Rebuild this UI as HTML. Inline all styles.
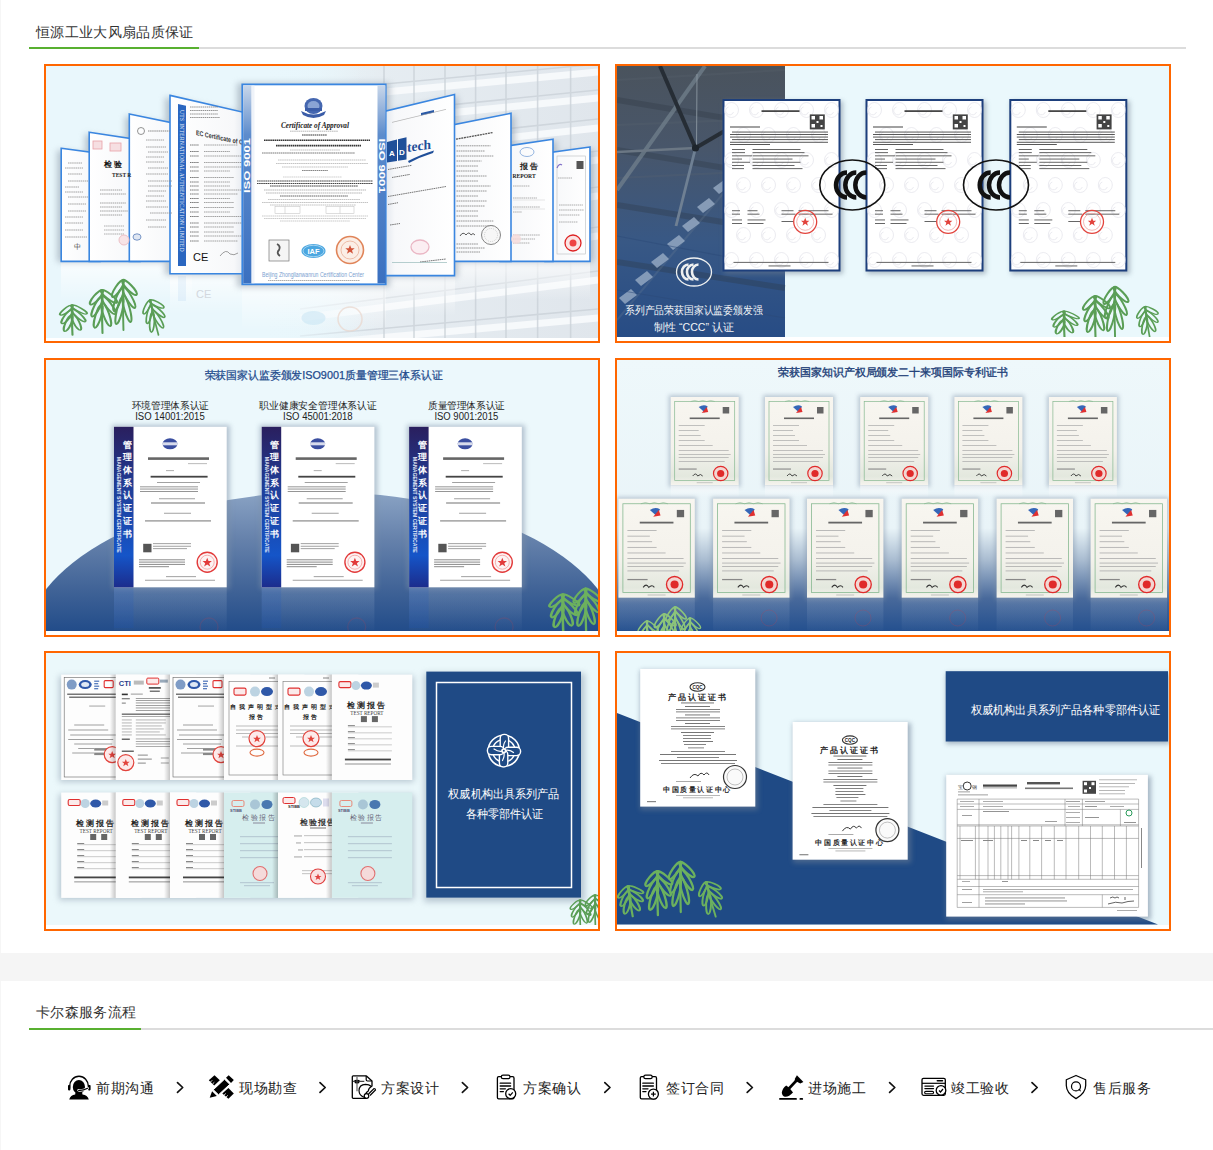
<!DOCTYPE html>
<html><head><meta charset="utf-8">
<style>
html,body{margin:0;padding:0;background:#fff;}
body{width:1213px;height:1150px;position:relative;overflow:hidden;font-family:"Liberation Sans",sans-serif;color:#333;}
.abs{position:absolute;}
.ttl{position:absolute;font-size:14px;letter-spacing:0.35px;line-height:16px;color:#333;white-space:nowrap;}
.gline{position:absolute;height:2px;background:#dcdcdc;}
.grn{position:absolute;height:2px;background:#58b030;}
.pan{position:absolute;width:556px;height:279px;box-sizing:border-box;border:2px solid #ff6600;background:#fff;}
.pan svg{position:absolute;left:0;top:0;display:block;}
.step{position:absolute;top:1075px;height:26px;}
.stxt{position:absolute;font-size:14px;letter-spacing:0.6px;line-height:16px;color:#222;white-space:nowrap;top:1080px;}
.chev{position:absolute;top:1081px;}
</style></head>
<body>
<svg width="0" height="0" style="position:absolute">
<defs>
<g id="fern" fill="none" stroke="#5a9e56" stroke-width="2.1" stroke-linecap="round">
<ellipse cx="7.00" cy="7.50" rx="2.9" ry="10.55" transform="rotate(-47.1 7.00 7.50)"/>
<ellipse cx="6.50" cy="17.50" rx="2.9" ry="12.24" transform="rotate(-32.3 6.50 17.50)"/>
<ellipse cx="4.25" cy="28.50" rx="2.9" ry="14.05" transform="rotate(-16.7 4.25 28.50)"/>
<ellipse cx="-5.50" cy="8.50" rx="2.9" ry="10.30" transform="rotate(36.3 -5.50 8.50)"/>
<ellipse cx="-5.00" cy="19.50" rx="2.9" ry="12.42" transform="rotate(23.2 -5.00 19.50)"/>
<ellipse cx="-3.75" cy="30.50" rx="2.9" ry="13.92" transform="rotate(14.6 -3.75 30.50)"/>
<path d="M0 0 Q-0.5 25 0.5 50"/>
</g>
<g id="fern2" fill="none" stroke="#6cb15e" stroke-width="2.3" stroke-linecap="round">
<ellipse cx="7.00" cy="7.50" rx="2.9" ry="10.55" transform="rotate(-47.1 7.00 7.50)"/>
<ellipse cx="6.50" cy="17.50" rx="2.9" ry="12.24" transform="rotate(-32.3 6.50 17.50)"/>
<ellipse cx="4.25" cy="28.50" rx="2.9" ry="14.05" transform="rotate(-16.7 4.25 28.50)"/>
<ellipse cx="-5.50" cy="8.50" rx="2.9" ry="10.30" transform="rotate(36.3 -5.50 8.50)"/>
<ellipse cx="-5.00" cy="19.50" rx="2.9" ry="12.42" transform="rotate(23.2 -5.00 19.50)"/>
<ellipse cx="-3.75" cy="30.50" rx="2.9" ry="13.92" transform="rotate(14.6 -3.75 30.50)"/>
<path d="M0 0 Q-0.5 25 0.5 50"/>
</g>
<g id="fern3" fill="none" stroke="#8cc47a" stroke-width="2.1" stroke-linecap="round">
<ellipse cx="7.00" cy="7.50" rx="2.9" ry="10.55" transform="rotate(-47.1 7.00 7.50)"/>
<ellipse cx="6.50" cy="17.50" rx="2.9" ry="12.24" transform="rotate(-32.3 6.50 17.50)"/>
<ellipse cx="4.25" cy="28.50" rx="2.9" ry="14.05" transform="rotate(-16.7 4.25 28.50)"/>
<ellipse cx="-5.50" cy="8.50" rx="2.9" ry="10.30" transform="rotate(36.3 -5.50 8.50)"/>
<ellipse cx="-5.00" cy="19.50" rx="2.9" ry="12.42" transform="rotate(23.2 -5.00 19.50)"/>
<ellipse cx="-3.75" cy="30.50" rx="2.9" ry="13.92" transform="rotate(14.6 -3.75 30.50)"/>
<path d="M0 0 Q-0.5 25 0.5 50"/>
</g>
<linearGradient id="bld" x1="0" y1="0" x2="1" y2="0">
<stop offset="0" stop-color="#e8f6fb" stop-opacity="0"/>
<stop offset="0.35" stop-color="#dfe7ee" stop-opacity="1"/>
<stop offset="1" stop-color="#d3dce6"/>
</linearGradient>
<linearGradient id="shR" x1="0" y1="0" x2="1" y2="0">
<stop offset="0" stop-color="#fff"/><stop offset="0.8" stop-color="#f7f8fa"/><stop offset="1" stop-color="#d9dfe8"/>
</linearGradient>
<linearGradient id="shL" x1="0" y1="0" x2="1" y2="0">
<stop offset="0" stop-color="#d9dfe8"/><stop offset="0.2" stop-color="#f7f8fa"/><stop offset="1" stop-color="#fff"/>
</linearGradient>
<linearGradient id="isoStrip" x1="0" y1="0" x2="1" y2="0">
<stop offset="0" stop-color="#a9c4e6"/><stop offset="1" stop-color="#4f86cc"/>
</linearGradient>
<linearGradient id="photo" x1="0" y1="0" x2="0" y2="1">
<stop offset="0" stop-color="#4a535d"/><stop offset="0.3" stop-color="#48566a"/><stop offset="0.65" stop-color="#385885"/><stop offset="1" stop-color="#274c85"/>
</linearGradient>
<g id="cccmark" fill="none" stroke="#111">
<ellipse cx="0" cy="0" rx="32.5" ry="25" stroke-width="1.6"/>
<path d="M-5.3 -12.5 A11 12.5 0 0 0 -5.3 12.5" stroke-width="4.5"/>
<path d="M4 -12.5 A11 12.5 0 0 0 4 12.5" stroke-width="4.5"/>
<path d="M14 -12.5 A11 12.5 0 0 0 14 12.5" stroke-width="4.5"/>
</g>
<g id="ccccert">
<rect x="0" y="0" width="116" height="170.5" fill="#fff" stroke="#1d3f7c" stroke-width="2"/>
<g fill="none" stroke="#e2e2ea" stroke-width="0.7"><ellipse cx="8" cy="10" rx="7" ry="7.5"/><path d="M5 7 a4 4 0 1 0 5 5"/><ellipse cx="33" cy="10" rx="7" ry="7.5"/><path d="M30 7 a4 4 0 1 0 5 5"/><ellipse cx="58" cy="10" rx="7" ry="7.5"/><path d="M55 7 a4 4 0 1 0 5 5"/><ellipse cx="83" cy="10" rx="7" ry="7.5"/><path d="M80 7 a4 4 0 1 0 5 5"/><ellipse cx="108" cy="10" rx="7" ry="7.5"/><path d="M105 7 a4 4 0 1 0 5 5"/><ellipse cx="20" cy="35" rx="7" ry="7.5"/><path d="M17 32 a4 4 0 1 0 5 5"/><ellipse cx="45" cy="35" rx="7" ry="7.5"/><path d="M42 32 a4 4 0 1 0 5 5"/><ellipse cx="70" cy="35" rx="7" ry="7.5"/><path d="M67 32 a4 4 0 1 0 5 5"/><ellipse cx="95" cy="35" rx="7" ry="7.5"/><path d="M92 32 a4 4 0 1 0 5 5"/><ellipse cx="8" cy="60" rx="7" ry="7.5"/><path d="M5 57 a4 4 0 1 0 5 5"/><ellipse cx="33" cy="60" rx="7" ry="7.5"/><path d="M30 57 a4 4 0 1 0 5 5"/><ellipse cx="58" cy="60" rx="7" ry="7.5"/><path d="M55 57 a4 4 0 1 0 5 5"/><ellipse cx="83" cy="60" rx="7" ry="7.5"/><path d="M80 57 a4 4 0 1 0 5 5"/><ellipse cx="108" cy="60" rx="7" ry="7.5"/><path d="M105 57 a4 4 0 1 0 5 5"/><ellipse cx="20" cy="85" rx="7" ry="7.5"/><path d="M17 82 a4 4 0 1 0 5 5"/><ellipse cx="45" cy="85" rx="7" ry="7.5"/><path d="M42 82 a4 4 0 1 0 5 5"/><ellipse cx="70" cy="85" rx="7" ry="7.5"/><path d="M67 82 a4 4 0 1 0 5 5"/><ellipse cx="95" cy="85" rx="7" ry="7.5"/><path d="M92 82 a4 4 0 1 0 5 5"/><ellipse cx="8" cy="110" rx="7" ry="7.5"/><path d="M5 107 a4 4 0 1 0 5 5"/><ellipse cx="33" cy="110" rx="7" ry="7.5"/><path d="M30 107 a4 4 0 1 0 5 5"/><ellipse cx="58" cy="110" rx="7" ry="7.5"/><path d="M55 107 a4 4 0 1 0 5 5"/><ellipse cx="83" cy="110" rx="7" ry="7.5"/><path d="M80 107 a4 4 0 1 0 5 5"/><ellipse cx="108" cy="110" rx="7" ry="7.5"/><path d="M105 107 a4 4 0 1 0 5 5"/><ellipse cx="20" cy="135" rx="7" ry="7.5"/><path d="M17 132 a4 4 0 1 0 5 5"/><ellipse cx="45" cy="135" rx="7" ry="7.5"/><path d="M42 132 a4 4 0 1 0 5 5"/><ellipse cx="70" cy="135" rx="7" ry="7.5"/><path d="M67 132 a4 4 0 1 0 5 5"/><ellipse cx="95" cy="135" rx="7" ry="7.5"/><path d="M92 132 a4 4 0 1 0 5 5"/><ellipse cx="8" cy="160" rx="7" ry="7.5"/><path d="M5 157 a4 4 0 1 0 5 5"/><ellipse cx="33" cy="160" rx="7" ry="7.5"/><path d="M30 157 a4 4 0 1 0 5 5"/><ellipse cx="58" cy="160" rx="7" ry="7.5"/><path d="M55 157 a4 4 0 1 0 5 5"/><ellipse cx="83" cy="160" rx="7" ry="7.5"/><path d="M80 157 a4 4 0 1 0 5 5"/><ellipse cx="108" cy="160" rx="7" ry="7.5"/><path d="M105 157 a4 4 0 1 0 5 5"/></g>
<rect x="38" y="10.3" width="38" height="1.6" fill="#333"/>
<rect x="86.3" y="14.4" width="15" height="15" fill="#444"/>
<g fill="#fff"><rect x="88" y="16" width="3.5" height="3.5"/><rect x="96" y="16" width="3.5" height="3.5"/><rect x="88" y="24" width="3.5" height="3.5"/><rect x="93" y="21" width="2" height="2"/><rect x="97" y="25" width="2" height="2"/></g>
<rect x="6.5" y="26.5" width="30" height="1" fill="#444"/>
<g fill="#444">
<rect x="8.5" y="31.6" width="96" height="0.9"/><rect x="6.5" y="34" width="98" height="0.9"/><rect x="6.5" y="36.6" width="98" height="0.9"/><rect x="8.5" y="39.2" width="96" height="0.9"/><rect x="6.5" y="41.8" width="98" height="0.9"/><rect x="6.5" y="44" width="40" height="0.9"/>
</g>
<g fill="#555">
<rect x="8.5" y="49" width="13" height="0.9"/><rect x="29" y="49" width="48" height="0.9"/>
<rect x="8.5" y="52.2" width="13" height="0.9"/><rect x="29" y="52.2" width="52" height="0.9"/>
<rect x="8.5" y="55.4" width="20" height="0.9"/><rect x="29" y="55.4" width="56" height="0.9"/>
<rect x="8.5" y="58.6" width="10" height="0.9"/><rect x="29" y="58.6" width="40" height="0.9"/>
<rect x="8.5" y="61.8" width="18" height="0.9"/><rect x="29" y="61.8" width="48" height="0.9"/>
<rect x="8.5" y="65" width="12" height="0.9"/><rect x="29" y="65" width="42" height="0.9"/>
<rect x="8.5" y="68.2" width="12" height="0.9"/><rect x="29" y="68.2" width="50" height="0.9"/>
<rect x="8.5" y="110.3" width="8" height="0.9"/><rect x="24" y="110.3" width="10" height="0.9"/><rect x="58" y="110.3" width="12" height="0.9"/><rect x="75" y="110.3" width="30" height="0.9"/>
<rect x="8.5" y="113.7" width="8" height="0.9"/><rect x="24" y="113.7" width="12" height="0.9"/><rect x="58" y="113.7" width="14" height="0.9"/><rect x="75" y="113.7" width="34" height="0.9"/>
<rect x="8.5" y="119.5" width="10" height="0.9"/><rect x="24" y="119.5" width="18" height="0.9"/><rect x="58" y="121" width="12" height="0.9"/>
<rect x="8.5" y="123" width="10" height="0.9"/><rect x="24" y="123" width="16" height="0.9"/>
<rect x="10" y="161.9" width="95" height="0.9"/><rect x="45" y="165.5" width="22" height="0.9"/>
</g>
<circle cx="81.7" cy="121.8" r="11.5" fill="none" stroke="#e2433c" stroke-width="1.3"/>
<circle cx="81.7" cy="121.8" r="8.5" fill="none" stroke="#ee9a96" stroke-width="0.7"/>
<path d="M81.7 117.8 l1.2 3 3 0 -2.4 2 1 3 -2.8 -2 -2.8 2 1 -3 -2.4 -2 3 0z" fill="#e2433c"/>
</g>
<linearGradient id="navyStrip" x1="0" y1="0" x2="0" y2="1">
<stop offset="0" stop-color="#2a1f5e"/><stop offset="0.4" stop-color="#1f3f9a"/><stop offset="0.8" stop-color="#1555c8"/><stop offset="1" stop-color="#1c2c8c"/>
</linearGradient>
<linearGradient id="blueArc" x1="0" y1="0" x2="0" y2="1">
<stop offset="0" stop-color="#5c7fae"/><stop offset="0.5" stop-color="#3a619a"/><stop offset="1" stop-color="#1f4b8c"/>
</linearGradient>
<g id="isocert">
<rect x="0" y="0" width="112.7" height="160.6" fill="#fff"/>
<rect x="0" y="0" width="19.5" height="160.6" fill="url(#navyStrip)"/>
<g font-family="Liberation Serif" font-weight="bold" font-size="9" fill="#fff" text-anchor="middle"><text x="13" y="20.9">管</text><text x="13" y="33.6">理</text><text x="13" y="46.3">体</text><text x="13" y="59.0">系</text><text x="13" y="71.7">认</text><text x="13" y="84.4">证</text><text x="13" y="97.1">证</text><text x="13" y="109.8">书</text></g>
<text transform="translate(3.4,30) rotate(90)" font-family="Liberation Sans" font-weight="bold" font-size="4.8" fill="#e6ecf8" textLength="96" lengthAdjust="spacingAndGlyphs">MANAGEMENT SYSTEM CERTIFICATE</text>
<ellipse cx="56" cy="17" rx="7.5" ry="5.5" fill="#3a4ea0"/><rect x="48.5" y="15.5" width="15" height="3" fill="#fff" opacity="0.8"/>
<rect x="34" y="30.5" width="61" height="2.6" fill="#666"/>
<rect x="74" y="36.5" width="19" height="0.8" fill="#aaa"/>
<rect x="52" y="43.5" width="8" height="0.8" fill="#999"/>
<rect x="36.6" y="49" width="57" height="1.8" fill="#444"/>
<g fill="#8a8a8a">
<rect x="43" y="55.2" width="43" height="0.8"/>
<rect x="26" y="59.6" width="58" height="0.9"/><rect x="26" y="61.8" width="58" height="0.9"/><rect x="26" y="64.2" width="58" height="0.9"/>
<rect x="45" y="71.6" width="36" height="0.8"/><rect x="37" y="75.6" width="54" height="1.2"/>
<rect x="50" y="86" width="27" height="0.8"/><rect x="31" y="93.5" width="66" height="1.2"/>
<rect x="39" y="116.5" width="38" height="0.8"/><rect x="39" y="119" width="38" height="0.8"/><rect x="39" y="121.5" width="34" height="0.8"/>
<rect x="25" y="132.5" width="46" height="1"/><rect x="25" y="134.8" width="46" height="1"/><rect x="25" y="137.1" width="46" height="1"/><rect x="25" y="139.4" width="30" height="1"/>
<rect x="52" y="149.5" width="30" height="0.8"/><rect x="31" y="153" width="70" height="0.8"/></g>
<rect x="29.2" y="117" width="8.3" height="8.5" fill="#555"/>
<circle cx="93.2" cy="135.4" r="10" fill="#fdf3f3" stroke="#e23a3a" stroke-width="1.4"/>
<circle cx="93.2" cy="135.4" r="7" fill="none" stroke="#f09090" stroke-width="0.7"/>
<path d="M93.2 130.9 l1.3 3.3 3.4 0 -2.7 2.2 1.1 3.3 -3.1 -2 -3.1 2 1.1 -3.3 -2.7 -2.2 3.4 0z" fill="#e23a3a"/>
</g>
<g id="patcert">
<rect x="0" y="0" width="68" height="88.2" fill="url(#patbg)"/>
<rect x="4" y="4.5" width="60" height="79" fill="none" stroke="#86b890" stroke-width="0.7"/>
<path d="M20 4.5 q4 -2 8 0 q4 -2 8 0 q4 -2 8 0" stroke="#86b890" fill="none" stroke-width="0.6"/>
<path d="M28 10 q5 -3 9 -0.5 l-3 6z" fill="#3566b8"/><path d="M31 16 l5 -6 1.5 5z" fill="#e03030"/>
<rect x="52" y="10" width="6.5" height="6.5" fill="#666"/>
<rect x="19" y="20.5" width="30" height="1.6" fill="#666"/>
<g fill="#aaa"><rect x="8" y="28" width="26" height="0.7"/><rect x="8" y="33" width="20" height="0.7"/><rect x="8" y="38" width="22" height="0.7"/>
<rect x="8" y="43" width="26" height="0.7"/><rect x="8" y="48" width="34" height="0.7"/><rect x="8" y="53" width="50" height="0.7"/><rect x="8" y="57" width="52" height="0.7"/><rect x="8" y="60" width="50" height="0.7"/><rect x="8" y="64" width="46" height="0.7"/></g>
<rect x="8" y="71.5" width="18" height="1.1" fill="#888"/>
<path d="M22 79 q3 -4 5 0 q3 -3 5 0" stroke="#333" fill="none" stroke-width="0.9"/>
<circle cx="50" cy="76.5" r="7.2" fill="#f3d6d2" stroke="#e02a2a" stroke-width="1.2"/>
<circle cx="50" cy="76.5" r="3.6" fill="#e02a2a"/>
<rect x="26" y="85.5" width="16" height="0.6" fill="#aaa"/>
</g>
<linearGradient id="patbg" x1="0" y1="0" x2="0" y2="1"><stop offset="0" stop-color="#f8f6f0"/><stop offset="0.6" stop-color="#f4f2ec"/><stop offset="0.9" stop-color="#e3e8de"/><stop offset="1" stop-color="#f6f4ee"/></linearGradient>
<linearGradient id="p4bg" x1="0" y1="0" x2="0" y2="1">
<stop offset="0" stop-color="#eef8fb"/><stop offset="0.62" stop-color="#e9f4f8"/><stop offset="0.74" stop-color="#a8bbd0"/><stop offset="0.88" stop-color="#48699b"/><stop offset="1" stop-color="#24508f"/>
</linearGradient>
<linearGradient id="cardsh" x1="0" y1="0" x2="1" y2="0"><stop offset="0" stop-color="#000" stop-opacity="0.22"/><stop offset="1" stop-color="#000" stop-opacity="0"/></linearGradient>
<g id="rep1">
<rect x="0" y="0" width="80.4" height="105.4" fill="#fdfdfd"/>
<rect x="3" y="3" width="74.4" height="99.4" fill="none" stroke="#666" stroke-width="0.6"/>
<circle cx="10.5" cy="10" r="5" fill="#7f9cc6"/><ellipse cx="24" cy="10" rx="6.5" ry="4.5" fill="#2e58aa"/><ellipse cx="24" cy="10" rx="4" ry="2.5" fill="#dfe8f5"/>
<g fill="#4a72b8"><rect x="33" y="6" width="5" height="1.2"/><rect x="33" y="8.5" width="4" height="1.2"/><rect x="33" y="11" width="5" height="1.2"/><rect x="33" y="13.5" width="4" height="1.2"/></g>
<rect x="43" y="6" width="9" height="7" fill="none" stroke="#e03030" stroke-width="1.1" rx="1"/>
<g fill="#555"><rect x="6" y="19" width="52" height="1.2"/><rect x="8" y="22" width="48" height="1.2"/></g>
<rect x="28" y="31" width="16" height="0.9" fill="#999"/>
<g fill="#888"><rect x="13" y="50" width="30" height="0.8"/><rect x="7" y="55" width="40" height="0.8"/><rect x="9" y="60" width="48" height="0.8"/><rect x="7" y="64.5" width="45" height="0.8"/><rect x="13" y="69" width="38" height="0.8"/>
<rect x="17" y="73.5" width="16" height="0.8"/><rect x="33" y="73.5" width="25" height="2.5"/><rect x="11" y="78" width="22" height="0.8"/><rect x="33" y="78" width="25" height="2.5"/></g>
<circle cx="51" cy="80" r="8" fill="#fdeaea" stroke="#e2433c" stroke-width="1.2"/><path d="M51 76.5 l1.1 2.7 2.8 0 -2.2 1.8 0.9 2.7 -2.6 -1.7 -2.6 1.7 0.9 -2.7 -2.2 -1.8 2.8 0z" fill="#e2433c"/>
</g>
<g id="rep2">
<rect x="0" y="0" width="80.4" height="105.4" fill="#fdfdfd"/>
<text x="3" y="11" font-family="Liberation Sans" font-weight="bold" font-size="7.5" fill="#2a3a8a">CTI</text>
<rect x="18" y="6" width="10" height="4" fill="#bbb"/>
<rect x="31" y="3.5" width="12" height="6" fill="#fbeaea" stroke="#e03030" stroke-width="1" rx="1"/><rect x="44" y="5" width="8" height="3" fill="#9ab"/>
<rect x="33" y="12.5" width="12" height="1.6" fill="#444"/><rect x="34" y="16" width="10" height="1.2" fill="#555"/>
<rect x="6" y="19" width="6" height="1.6" fill="#333"/><rect x="15" y="19" width="12" height="1" fill="#999"/>
<g fill="#777"><rect x="6" y="23.5" width="8" height="1.2"/><rect x="20" y="23.5" width="36" height="0.7"/><rect x="20" y="25.5" width="36" height="0.7"/><rect x="6" y="28" width="4" height="1"/><rect x="20" y="28" width="36" height="0.7"/><rect x="20" y="30.5" width="36" height="0.7"/><rect x="20" y="33" width="36" height="0.7"/><rect x="20" y="35.5" width="36" height="0.7"/></g>
<rect x="6" y="39" width="50" height="1.1" fill="#444"/><rect x="6" y="41.5" width="50" height="0.7" fill="#888"/>
<g fill="#999"><rect x="6" y="45" width="10" height="0.7"/><rect x="20" y="45" width="30" height="0.7"/><rect x="6" y="48" width="10" height="0.7"/><rect x="20" y="48" width="30" height="0.7"/><rect x="6" y="51" width="10" height="0.7"/><rect x="20" y="51" width="26" height="0.7"/><rect x="6" y="54" width="10" height="0.7"/><rect x="20" y="54" width="28" height="0.7"/><rect x="6" y="57" width="10" height="0.7"/><rect x="20" y="57" width="24" height="0.7"/><rect x="6" y="60" width="10" height="0.7"/><rect x="20" y="60" width="30" height="0.7"/></g>
<rect x="6" y="64" width="8" height="1.2" fill="#444"/><g fill="#888"><rect x="20" y="64" width="36" height="0.7"/><rect x="20" y="66.5" width="36" height="0.7"/><rect x="20" y="69" width="36" height="0.7"/><rect x="20" y="71.5" width="36" height="0.7"/></g>
<rect x="6" y="76" width="12" height="1.2" fill="#444"/>
<circle cx="10" cy="88" r="8" fill="#fdeaea" stroke="#e2433c" stroke-width="1.2"/><path d="M10 84.5 l1.1 2.7 2.8 0 -2.2 1.8 0.9 2.7 -2.6 -1.7 -2.6 1.7 0.9 -2.7 -2.2 -1.8 2.8 0z" fill="#e2433c"/>
<g fill="#888"><rect x="22" y="80" width="10" height="1"/><rect x="22" y="84" width="14" height="1"/><rect x="22" y="88" width="8" height="1"/><rect x="45" y="83" width="8" height="0.8"/><rect x="45" y="88" width="8" height="0.8"/></g>
</g>
<g id="rep3">
<rect x="0" y="0" width="80.4" height="105.4" fill="#fdfdfd"/>
<rect x="5" y="7" width="70.4" height="93.4" fill="none" stroke="#777" stroke-width="0.6"/>
<rect x="45" y="3" width="6" height="0.8" fill="#666"/>
<rect x="10" y="13.5" width="12" height="7" fill="#fbeaea" stroke="#e03030" stroke-width="1.1" rx="1.5"/><circle cx="31" cy="17" r="5" fill="#bcd3e2"/><ellipse cx="43" cy="17" rx="6" ry="4.5" fill="#2f58a8"/>
<text x="33" y="34" text-anchor="middle" font-family="Liberation Serif" font-weight="bold" font-size="6.3" fill="#222" letter-spacing="3">自我声明型式</text>
<text x="33" y="44" text-anchor="middle" font-family="Liberation Serif" font-weight="bold" font-size="6" fill="#222" letter-spacing="2">报告</text>
<g fill="#aaa"><rect x="12" y="51" width="48" height="0.8"/><rect x="12" y="55" width="48" height="0.8"/><rect x="12" y="58.5" width="44" height="0.8"/><rect x="18" y="62" width="40" height="0.8"/><rect x="12" y="71" width="48" height="0.8"/></g>
<circle cx="33" cy="64" r="8" fill="#fdeaea" stroke="#e2433c" stroke-width="1.2"/><path d="M33 60.5 l1.1 2.7 2.8 0 -2.2 1.8 0.9 2.7 -2.6 -1.7 -2.6 1.7 0.9 -2.7 -2.2 -1.8 2.8 0z" fill="#e2433c"/>
<ellipse cx="33" cy="78" rx="7" ry="3.5" fill="none" stroke="#e06a40" stroke-width="1.1"/>
</g>
<g id="rep5">
<rect x="0" y="0" width="80.4" height="105.4" fill="#fdfdfd"/>
<rect x="7" y="7" width="12" height="6" fill="#fbeaea" stroke="#e03030" stroke-width="1.1" rx="1.5"/><circle cx="24" cy="11" r="4.5" fill="#bcd3e2"/><ellipse cx="34.5" cy="11" rx="5.5" ry="4" fill="#2f58a8"/><rect x="41" y="8" width="6" height="5" fill="#ccc"/>
<text x="35" y="33" text-anchor="middle" font-family="Liberation Serif" font-weight="bold" font-size="7.5" fill="#222" letter-spacing="2">检测报告</text>
<text x="35" y="40" text-anchor="middle" font-family="Liberation Serif" font-size="5.2" fill="#444">TEST REPORT</text>
<rect x="29" y="41.5" width="6" height="6" fill="#666"/><rect x="40" y="41.5" width="6" height="6" fill="#666"/>
<g fill="#aaa"><rect x="16" y="52" width="44" height="0.6"/><rect x="16" y="58" width="44" height="0.6"/><rect x="16" y="64" width="44" height="0.6"/><rect x="16" y="70" width="44" height="0.6"/><rect x="16" y="76" width="44" height="0.6"/></g>
<g fill="#888"><rect x="16" y="50.5" width="7" height="1"/><rect x="16" y="56.5" width="7" height="1"/><rect x="16" y="62.5" width="7" height="1"/><rect x="16" y="68.5" width="7" height="1"/><rect x="16" y="74.5" width="7" height="1"/></g>
<rect x="13" y="84" width="46" height="1.8" fill="#444"/><rect x="13" y="89" width="46" height="0.8" fill="#777"/>
</g>
<g id="rep6">
<rect x="0" y="0" width="80.4" height="105.4" fill="#fdfdfd"/>
<rect x="5" y="5" width="12" height="6" fill="#fbeaea" stroke="#e03030" stroke-width="1" rx="1.5"/><text x="10" y="15.5" font-family="Liberation Sans" font-weight="bold" font-size="4" fill="#333">STIBB</text>
<circle cx="26" cy="10" r="5" fill="#d5e6ee" stroke="#9cc" stroke-width="0.5"/><ellipse cx="38" cy="10" rx="5.5" ry="4.5" fill="#c5dcea" stroke="#7ab" stroke-width="0.6"/><rect x="45" y="6" width="6" height="8" fill="#dde"/>
<text x="40" y="32" text-anchor="middle" font-family="Liberation Serif" font-weight="bold" font-size="7.5" fill="#333" letter-spacing="1.2">检验报告</text>
<rect x="32" y="35" width="16" height="1" fill="#777"/>
<g fill="#999"><rect x="16" y="43" width="8" height="0.9"/><rect x="26" y="43" width="40" height="0.6"/><rect x="18" y="50" width="5" height="0.9"/><rect x="26" y="50" width="40" height="0.6"/><rect x="20" y="57" width="5" height="0.9"/><rect x="26" y="57" width="40" height="0.6"/><rect x="16" y="64" width="8" height="0.9"/><rect x="26" y="64" width="40" height="0.6"/>
<rect x="24" y="78" width="40" height="0.6"/><rect x="24" y="81" width="40" height="0.6"/></g>
<circle cx="40" cy="84" r="7.5" fill="#fbe0e0" stroke="#e04040" stroke-width="1.1"/><path d="M40 81 l1 2.5 2.5 0 -2 1.6 0.8 2.5 -2.3 -1.5 -2.3 1.5 0.8 -2.5 -2 -1.6 2.5 0z" fill="#e04040"/>
</g>
<g id="rep4">
<rect x="0" y="0" width="80.4" height="105.4" fill="#d6eeee"/>
<rect x="8" y="8" width="12" height="6" fill="none" stroke="#e88a7a" stroke-width="1" rx="1.5"/><text x="6" y="19" font-family="Liberation Sans" font-weight="bold" font-size="4" fill="#557">STIBB</text>
<circle cx="31" cy="12" r="5" fill="#a9c6d6"/><ellipse cx="43" cy="12" rx="5.5" ry="4.5" fill="#4a78b0"/>
<text x="35" y="27" text-anchor="middle" font-family="Liberation Serif" font-size="6.8" fill="#667" letter-spacing="1.5">检验报告</text>
<rect x="29" y="30" width="12" height="1" fill="#889"/>
<g fill="#9ab"><rect x="16" y="44" width="44" height="0.6"/><rect x="16" y="51" width="44" height="0.6"/><rect x="16" y="58" width="44" height="0.6"/><rect x="16" y="65" width="44" height="0.6"/><rect x="16" y="90" width="34" height="0.6"/><rect x="20" y="93" width="26" height="0.6"/></g>
<circle cx="36" cy="81" r="7" fill="#f5dada" stroke="#e07070" stroke-width="1.1"/>
</g>
</defs></svg>
<div class="abs" style="left:0;top:0;width:1px;height:1150px;background:#f6f6f6;"></div>
<!-- section 1 header -->
<div class="ttl" style="left:36px;top:24px;">恒源工业大风扇品质保证</div>
<div class="gline" style="left:29px;top:47px;width:1157px;"></div>
<div class="grn" style="left:29px;top:47px;width:170px;"></div>

<!-- panels -->
<div class="pan" id="p1" style="left:44px;top:64px;">
<svg width="552" height="275" viewBox="46 66 552 275">
<defs>
<linearGradient id="bld2" x1="0" y1="0" x2="1" y2="0">
<stop offset="0" stop-color="#e9f7fc" stop-opacity="0"/>
<stop offset="0.3" stop-color="#e6ecf1" stop-opacity="0.9"/>
<stop offset="1" stop-color="#e0e6ec"/>
</linearGradient>
<linearGradient id="fadeL" x1="0" y1="0" x2="1" y2="0">
<stop offset="0" stop-color="#e9f7fc"/><stop offset="1" stop-color="#e9f7fc" stop-opacity="0"/>
</linearGradient>
<filter id="blur3" x="-20%" y="-20%" width="140%" height="140%"><feGaussianBlur stdDeviation="3"/></filter>
<filter id="blur1" x="-20%" y="-20%" width="140%" height="140%"><feGaussianBlur stdDeviation="1.2"/></filter>
<linearGradient id="reflect" x1="0" y1="0" x2="0" y2="1">
<stop offset="0" stop-color="#fff" stop-opacity="0.75"/><stop offset="1" stop-color="#fff" stop-opacity="0"/>
</linearGradient>
</defs>
<rect x="46" y="66" width="552" height="272" fill="#e9f7fc"/>
<!-- building -->
<rect x="260" y="66" width="338" height="272" fill="url(#bld2)"/>
<g stroke="#f8fafc" stroke-width="7" opacity="0.95">
<line x1="300" y1="100" x2="598" y2="72"/><line x1="300" y1="128" x2="598" y2="98"/>
<line x1="300" y1="160" x2="598" y2="128"/><line x1="300" y1="196" x2="598" y2="160"/>
<line x1="300" y1="234" x2="598" y2="196"/><line x1="300" y1="276" x2="598" y2="236"/>
<line x1="300" y1="318" x2="598" y2="280"/><line x1="300" y1="345" x2="598" y2="318"/>
</g>
<g stroke="#cbd2d9" stroke-width="1.6" opacity="0.8">
<line x1="300" y1="92" x2="598" y2="64"/><line x1="300" y1="120" x2="598" y2="90"/>
<line x1="300" y1="151" x2="598" y2="119"/><line x1="300" y1="187" x2="598" y2="151"/>
<line x1="300" y1="225" x2="598" y2="187"/><line x1="300" y1="267" x2="598" y2="227"/>
<line x1="300" y1="309" x2="598" y2="271"/><line x1="300" y1="336" x2="598" y2="309"/>
<line x1="475.6" y1="66" x2="475.6" y2="338"/><line x1="506" y1="66" x2="506" y2="338"/>
<line x1="537.6" y1="66" x2="537.6" y2="338"/><line x1="570.6" y1="66" x2="570.6" y2="338"/>
<line x1="445" y1="66" x2="445" y2="338"/><line x1="414" y1="66" x2="414" y2="338"/><line x1="384" y1="66" x2="384" y2="338"/>
</g>
<rect x="260" y="66" width="120" height="272" fill="url(#fadeL)"/>
<!-- reflections -->
<g>
<rect x="61" y="262" width="131" height="38" fill="url(#reflect)"/>
<rect x="170" y="274" width="72" height="40" fill="url(#reflect)"/>
<rect x="242" y="285" width="144" height="45" fill="url(#reflect)"/>
<rect x="386" y="276" width="69" height="40" fill="url(#reflect)"/>
<rect x="455" y="262" width="135" height="38" fill="url(#reflect)"/>
</g>
<g opacity="0.08" fill="#3a8ad8"><rect x="178" y="276" width="8" height="25"/></g>
<text x="196" y="298" font-family="Liberation Sans" font-size="11" fill="#d3d8de">CE</text>
<ellipse cx="313.5" cy="318" rx="12" ry="7" fill="#bfe0f2" opacity="0.45"/>
<circle cx="350" cy="319" r="12" fill="none" stroke="#ead5cc" stroke-width="1.5" opacity="0.7"/>
<!-- shadows -->
<g filter="url(#blur3)" fill="#8c9aa8" opacity="0.55">
<polygon points="57,150 100,155 100,262 57,262"/>
<polygon points="85,134 140,142 140,262 85,262"/>
<polygon points="125,116 180,126 180,262 125,262"/>
<polygon points="165,97 250,115 250,275 165,275"/>
<rect x="237" y="83" width="153" height="204"/>
<polygon points="594,149 545,155 545,262 594,262"/>
<polygon points="557,141 500,149 500,262 557,262"/>
<polygon points="515,115 445,128 445,262 515,262"/>
<polygon points="458,96 380,114 380,277 458,277"/>
</g>
<!-- certs left -->
<g stroke="#3a86e0" stroke-width="1.6">
<polygon points="61.2,148.3 100,153.5 100,261.4 61.2,261.4" fill="url(#shR)"/>
<polygon points="89.2,132.3 140,140 140,261.4 89.2,261.4" fill="url(#shR)"/>
<polygon points="129.3,114 180,124.5 180,261.4 129.3,261.4" fill="url(#shR)"/>
<polygon points="170,95.4 250,113.8 250,273.8 170,273.8" fill="url(#shR)"/>
</g>
<!-- certs right -->
<g stroke="#3a86e0" stroke-width="1.6">
<polygon points="590,147 545,153.3 545,261.4 590,261.4" fill="url(#shL)"/>
<polygon points="553,139.2 500,147 500,261.4 553,261.4" fill="url(#shL)"/>
<polygon points="511,113.3 445,126.5 445,261.4 511,261.4" fill="url(#shL)"/>
<polygon points="454.5,94.5 380,112.4 380,275.6 454.5,275.6" fill="url(#shL)"/>
</g>
<!-- cert D content -->
<polygon points="178,104 186,105.8 186,266 178,266" fill="#2a66c0"/>
<text transform="translate(180.2,110) rotate(90)" font-family="Liberation Serif" font-size="5.4" fill="#eef3fb" letter-spacing="0.4">UTS INTERNATIONAL AUTHENTICATION LIMITED</text>
<g stroke-dasharray="1.5 0.6"><line x1="190" y1="107.0" x2="218.0" y2="107.0" stroke="#777" stroke-width="0.8"/><line x1="190" y1="110.5" x2="218.0" y2="110.5" stroke="#777" stroke-width="0.8"/><line x1="190" y1="114.0" x2="218.0" y2="114.0" stroke="#777" stroke-width="0.8"/><line x1="190" y1="117.5" x2="220.0" y2="117.5" stroke="#777" stroke-width="0.8"/><line x1="190" y1="145.0" x2="199.0" y2="145.0" stroke="#666" stroke-width="0.9"/><line x1="204" y1="145.0" x2="238.0" y2="145.0" stroke="#8a8a8a" stroke-width="0.8"/><line x1="190" y1="151.5" x2="199.0" y2="151.5" stroke="#666" stroke-width="0.9"/><line x1="204" y1="151.5" x2="230.0" y2="151.5" stroke="#8a8a8a" stroke-width="0.8"/><line x1="190" y1="156.0" x2="199.0" y2="156.0" stroke="#666" stroke-width="0.9"/><line x1="204" y1="156.0" x2="242.0" y2="156.0" stroke="#8a8a8a" stroke-width="0.8"/><line x1="190" y1="162.5" x2="199.0" y2="162.5" stroke="#666" stroke-width="0.9"/><line x1="204" y1="162.5" x2="244.0" y2="162.5" stroke="#8a8a8a" stroke-width="0.8"/><line x1="190" y1="167.0" x2="199.0" y2="167.0" stroke="#666" stroke-width="0.9"/><line x1="204" y1="167.0" x2="242.0" y2="167.0" stroke="#8a8a8a" stroke-width="0.8"/><line x1="190" y1="171.0" x2="199.0" y2="171.0" stroke="#666" stroke-width="0.9"/><line x1="204" y1="171.0" x2="230.0" y2="171.0" stroke="#8a8a8a" stroke-width="0.8"/><line x1="190" y1="177.5" x2="199.0" y2="177.5" stroke="#666" stroke-width="0.9"/><line x1="204" y1="177.5" x2="234.0" y2="177.5" stroke="#8a8a8a" stroke-width="0.8"/><line x1="190" y1="182.0" x2="199.0" y2="182.0" stroke="#666" stroke-width="0.9"/><line x1="204" y1="182.0" x2="230.0" y2="182.0" stroke="#8a8a8a" stroke-width="0.8"/><line x1="190" y1="186.0" x2="199.0" y2="186.0" stroke="#666" stroke-width="0.9"/><line x1="204" y1="186.0" x2="230.0" y2="186.0" stroke="#8a8a8a" stroke-width="0.8"/><line x1="190" y1="190.0" x2="199.0" y2="190.0" stroke="#666" stroke-width="0.9"/><line x1="204" y1="190.0" x2="242.0" y2="190.0" stroke="#8a8a8a" stroke-width="0.8"/><line x1="190" y1="194.0" x2="199.0" y2="194.0" stroke="#666" stroke-width="0.9"/><line x1="204" y1="194.0" x2="238.0" y2="194.0" stroke="#8a8a8a" stroke-width="0.8"/><line x1="190" y1="198.5" x2="199.0" y2="198.5" stroke="#666" stroke-width="0.9"/><line x1="204" y1="198.5" x2="230.0" y2="198.5" stroke="#8a8a8a" stroke-width="0.8"/><line x1="190" y1="202.5" x2="199.0" y2="202.5" stroke="#666" stroke-width="0.9"/><line x1="204" y1="202.5" x2="234.0" y2="202.5" stroke="#8a8a8a" stroke-width="0.8"/><line x1="190" y1="207.5" x2="199.0" y2="207.5" stroke="#666" stroke-width="0.9"/><line x1="204" y1="207.5" x2="234.0" y2="207.5" stroke="#8a8a8a" stroke-width="0.8"/><line x1="190" y1="212.0" x2="199.0" y2="212.0" stroke="#666" stroke-width="0.9"/><line x1="204" y1="212.0" x2="230.0" y2="212.0" stroke="#8a8a8a" stroke-width="0.8"/><line x1="190" y1="216.5" x2="199.0" y2="216.5" stroke="#666" stroke-width="0.9"/><line x1="204" y1="216.5" x2="244.0" y2="216.5" stroke="#8a8a8a" stroke-width="0.8"/><line x1="190" y1="223.0" x2="199.0" y2="223.0" stroke="#666" stroke-width="0.9"/><line x1="204" y1="223.0" x2="242.0" y2="223.0" stroke="#8a8a8a" stroke-width="0.8"/><line x1="190" y1="227.0" x2="199.0" y2="227.0" stroke="#666" stroke-width="0.9"/><line x1="204" y1="227.0" x2="234.0" y2="227.0" stroke="#8a8a8a" stroke-width="0.8"/><line x1="190" y1="232.0" x2="199.0" y2="232.0" stroke="#666" stroke-width="0.9"/><line x1="204" y1="232.0" x2="234.0" y2="232.0" stroke="#8a8a8a" stroke-width="0.8"/><line x1="190" y1="236.0" x2="199.0" y2="236.0" stroke="#666" stroke-width="0.9"/><line x1="204" y1="236.0" x2="244.0" y2="236.0" stroke="#8a8a8a" stroke-width="0.8"/><line x1="190" y1="241.0" x2="199.0" y2="241.0" stroke="#666" stroke-width="0.9"/><line x1="204" y1="241.0" x2="238.0" y2="241.0" stroke="#8a8a8a" stroke-width="0.8"/></g>
<text x="196" y="135" font-family="Liberation Sans" font-weight="bold" font-size="7" fill="#333" transform="skewY(12)" transform-origin="196 135" textLength="50" lengthAdjust="spacingAndGlyphs">EC Certificate of Co</text>
<text x="193" y="261" font-family="Liberation Sans" font-size="11" fill="#111">CE</text>
<path d="M220 256 q6 -8 10 -2 q4 2 8 -1" stroke="#777" fill="none" stroke-width="0.7"/>
<!-- cert C content -->
<circle cx="141" cy="131" r="3.5" fill="none" stroke="#666" stroke-width="0.7"/>
<g stroke-dasharray="1.5 0.6"><line x1="148" y1="131.0" x2="170.0" y2="131.0" stroke="#888" stroke-width="1"/><line x1="146" y1="140.0" x2="164.0" y2="140.0" stroke="#8a8a8a" stroke-width="0.8"/><line x1="146" y1="147.0" x2="166.0" y2="147.0" stroke="#8a8a8a" stroke-width="0.8"/><line x1="148" y1="152.0" x2="168.0" y2="152.0" stroke="#8a8a8a" stroke-width="0.8"/><line x1="146" y1="157.0" x2="164.0" y2="157.0" stroke="#8a8a8a" stroke-width="0.8"/><line x1="146" y1="162.0" x2="164.0" y2="162.0" stroke="#8a8a8a" stroke-width="0.8"/><line x1="148" y1="168.0" x2="168.0" y2="168.0" stroke="#8a8a8a" stroke-width="0.8"/><line x1="146" y1="174.0" x2="168.0" y2="174.0" stroke="#8a8a8a" stroke-width="0.8"/><line x1="148" y1="181.0" x2="172.0" y2="181.0" stroke="#8a8a8a" stroke-width="0.8"/><line x1="148" y1="186.0" x2="172.0" y2="186.0" stroke="#8a8a8a" stroke-width="0.8"/><line x1="148" y1="191.0" x2="166.0" y2="191.0" stroke="#8a8a8a" stroke-width="0.8"/><line x1="146" y1="196.0" x2="164.0" y2="196.0" stroke="#8a8a8a" stroke-width="0.8"/><line x1="146" y1="201.0" x2="166.0" y2="201.0" stroke="#8a8a8a" stroke-width="0.8"/><line x1="146" y1="207.0" x2="168.0" y2="207.0" stroke="#8a8a8a" stroke-width="0.8"/><line x1="150" y1="213.0" x2="172.0" y2="213.0" stroke="#8a8a8a" stroke-width="0.8"/><line x1="146" y1="220.0" x2="166.0" y2="220.0" stroke="#8a8a8a" stroke-width="0.8"/><line x1="148" y1="227.0" x2="166.0" y2="227.0" stroke="#8a8a8a" stroke-width="0.8"/></g>
<ellipse cx="137" cy="237" rx="4" ry="3.2" fill="#dfe6f2" stroke="#6a8ac0" stroke-width="0.9"/>
<!-- cert B content -->
<rect x="93" y="141" width="9" height="8" fill="#f6dfe2" stroke="#e8a0a8" stroke-width="0.8"/><rect x="110" y="143" width="11" height="8" fill="#f6dfe2" stroke="#e8a0a8" stroke-width="0.8"/>
<text x="104" y="167" font-family="Liberation Serif" font-weight="bold" font-size="8" fill="#111">检 验</text>
<text x="112" y="177" font-family="Liberation Serif" font-weight="bold" font-size="5.5" fill="#222">TEST R</text>
<g stroke-dasharray="1.5 0.6"><line x1="100" y1="190.0" x2="122.0" y2="190.0" stroke="#8a8a8a" stroke-width="0.8"/><line x1="100" y1="194.0" x2="126.0" y2="194.0" stroke="#8a8a8a" stroke-width="0.8"/><line x1="100" y1="203.0" x2="126.0" y2="203.0" stroke="#8a8a8a" stroke-width="0.8"/><line x1="100" y1="207.0" x2="122.0" y2="207.0" stroke="#8a8a8a" stroke-width="0.8"/><line x1="100" y1="211.0" x2="128.0" y2="211.0" stroke="#8a8a8a" stroke-width="0.8"/><line x1="100" y1="215.0" x2="122.0" y2="215.0" stroke="#8a8a8a" stroke-width="0.8"/><line x1="104" y1="226.0" x2="124.0" y2="226.0" stroke="#999" stroke-width="0.8"/><line x1="104" y1="230.0" x2="124.0" y2="230.0" stroke="#999" stroke-width="0.8"/><line x1="104" y1="234.0" x2="124.0" y2="234.0" stroke="#999" stroke-width="0.8"/></g>
<circle cx="124" cy="240" r="5" fill="#f8e4e6" stroke="#ecc0c6" stroke-width="1"/>
<!-- cert A content -->
<g stroke-dasharray="1.5 0.6"><line x1="68" y1="163.0" x2="82.0" y2="163.0" stroke="#8a8a8a" stroke-width="0.8"/><line x1="65" y1="168.0" x2="83.0" y2="168.0" stroke="#8a8a8a" stroke-width="0.8"/><line x1="68" y1="174.0" x2="82.0" y2="174.0" stroke="#8a8a8a" stroke-width="0.8"/><line x1="68" y1="181.0" x2="88.0" y2="181.0" stroke="#8a8a8a" stroke-width="0.8"/><line x1="65" y1="187.0" x2="79.0" y2="187.0" stroke="#8a8a8a" stroke-width="0.8"/><line x1="65" y1="192.0" x2="83.0" y2="192.0" stroke="#8a8a8a" stroke-width="0.8"/><line x1="68" y1="197.0" x2="88.0" y2="197.0" stroke="#8a8a8a" stroke-width="0.8"/><line x1="68" y1="204.0" x2="86.0" y2="204.0" stroke="#8a8a8a" stroke-width="0.8"/><line x1="68" y1="211.0" x2="86.0" y2="211.0" stroke="#8a8a8a" stroke-width="0.8"/><line x1="65" y1="217.0" x2="83.0" y2="217.0" stroke="#8a8a8a" stroke-width="0.8"/><line x1="65" y1="223.0" x2="83.0" y2="223.0" stroke="#8a8a8a" stroke-width="0.8"/><line x1="65" y1="230.0" x2="83.0" y2="230.0" stroke="#8a8a8a" stroke-width="0.8"/><line x1="65" y1="237.0" x2="87.0" y2="237.0" stroke="#8a8a8a" stroke-width="0.8"/></g>
<text x="74" y="249" font-family="Liberation Serif" font-size="7" fill="#444">中</text>
<!-- cert E content ADtech -->
<polygon points="421,113 434,110 434,112.5 421,115.5" fill="#2a5aa8"/>
<polygon points="392,122 446,109 446,109.8 392,122.8" fill="#999" opacity="0.7"/>
<polygon points="387,142 397,139.5 397,161 387,162.5" fill="#1f4f99"/>
<polygon points="398,139.2 406.5,137.3 406.5,159.5 398,160.8" fill="#1f4f99"/>
<text x="392" y="156" text-anchor="middle" font-family="Liberation Sans" font-weight="bold" font-size="8" fill="#fff">A</text>
<text x="402" y="155" text-anchor="middle" font-family="Liberation Sans" font-weight="bold" font-size="8" fill="#fff">D</text>
<text x="407" y="152" font-family="Liberation Serif" font-weight="bold" font-size="13.5" fill="#1f4f99" transform="skewY(-8)" transform-origin="407 152">tech</text>
<path d="M408 161 Q422 154 434 150.5 L433 153 Q420 157 409 163Z" fill="#1f4f99"/>
<g stroke="#777" stroke-width="1" stroke-dasharray="1.6 0.6"><line x1="388" y1="169.5" x2="412" y2="165.3"/><line x1="392" y1="177.5" x2="410" y2="174.4"/><line x1="388" y1="196.5" x2="446" y2="186.5"/><line x1="388" y1="204.5" x2="398" y2="202.7"/>
<line x1="390" y1="225" x2="400" y2="223.5"/><line x1="420" y1="262" x2="446" y2="259"/></g>
<ellipse cx="420" cy="247" rx="9" ry="7" fill="#fbeef2" stroke="#eab6c4" stroke-width="1.3"/>
<rect x="392" y="262" width="55" height="0.7" fill="#9bb"/>
<!-- cert F -->
<line x1="456" y1="139.2" x2="492.6" y2="132.6" stroke="#555" stroke-width="1.3" stroke-dasharray="2 0.7"/>
<g stroke="#8a8a8a" stroke-width="0.9" stroke-dasharray="1.6 0.6"><line x1="456.5" y1="145.8" x2="490.5" y2="145.8"/><line x1="456.5" y1="151" x2="484.5" y2="151"/><line x1="456.5" y1="156" x2="493.5" y2="156"/><line x1="456.5" y1="161" x2="481.5" y2="161"/><line x1="456.5" y1="166" x2="478.5" y2="166"/><line x1="456.5" y1="171" x2="478.5" y2="171"/><line x1="456.5" y1="176" x2="486.5" y2="176"/><line x1="456.5" y1="181" x2="478.5" y2="181"/><line x1="456.5" y1="186" x2="490.5" y2="186"/><line x1="456.5" y1="191" x2="486.5" y2="191"/><line x1="456.5" y1="196" x2="478.5" y2="196"/><line x1="456.5" y1="201" x2="486.5" y2="201"/><line x1="456.5" y1="206" x2="484.5" y2="206"/><line x1="456.5" y1="211" x2="478.5" y2="211"/><line x1="456.5" y1="216" x2="478.5" y2="216"/><line x1="456.5" y1="221" x2="493.5" y2="221"/><line x1="456.5" y1="226" x2="493.5" y2="226"/></g>
<circle cx="491" cy="235" r="9.5" fill="#f7f7f7" stroke="#666" stroke-width="0.8"/>
<circle cx="491" cy="235" r="6.5" fill="none" stroke="#aaa" stroke-width="0.5" stroke-dasharray="1 1"/>
<path d="M460 236 q3 -5 6 -1 q3 -4 5 0 q2 -3 4 0" stroke="#333" fill="none" stroke-width="0.8"/>
<g stroke="#888" stroke-width="0.9" stroke-dasharray="1.6 0.6"><line x1="456.5" y1="244" x2="478" y2="244"/><line x1="456.5" y1="248" x2="485" y2="248"/><line x1="456.5" y1="252" x2="480" y2="252"/></g>
<!-- cert G -->
<ellipse cx="527" cy="152" rx="7" ry="4.5" fill="none" stroke="#7aa2d8" stroke-width="0.8"/>
<text x="520" y="169" font-family="Liberation Serif" font-weight="bold" font-size="8" fill="#222" letter-spacing="2">报告</text>
<text x="512.5" y="178" font-family="Liberation Serif" font-weight="bold" font-size="5.6" fill="#222">REPORT</text>
<g stroke="#999" stroke-width="0.8" stroke-dasharray="1.5 0.6"><line x1="513" y1="186" x2="530" y2="186"/><line x1="513" y1="198" x2="537" y2="198"/><line x1="513" y1="207" x2="540" y2="207"/><line x1="513" y1="212" x2="522" y2="212"/>
<line x1="513" y1="235" x2="540" y2="235"/><line x1="513" y1="239" x2="535" y2="239"/><line x1="513" y1="243" x2="530" y2="243"/></g>
<g stroke="#ccc" stroke-width="0.5"><line x1="513" y1="200" x2="545" y2="200"/><line x1="513" y1="209" x2="545" y2="209"/></g>
<circle cx="516" cy="239" r="5" fill="#f6dada" opacity="0.8"/>
<!-- cert H -->
<rect x="557" y="156" width="28.5" height="98" fill="none" stroke="#b8bcc0" stroke-width="0.6"/>
<path d="M557 168 q2 -5 5 -3" stroke="#8070c8" fill="none" stroke-width="1.2"/>
<rect x="576.5" y="161" width="7" height="8" fill="#555"/>
<g stroke="#999" stroke-width="0.8" stroke-dasharray="1.5 0.6"><line x1="558" y1="178" x2="572" y2="178"/><line x1="559" y1="205" x2="583" y2="205"/><line x1="559" y1="210" x2="584" y2="210"/><line x1="559" y1="215" x2="580" y2="215"/><line x1="559" y1="222" x2="578" y2="222"/></g>
<circle cx="573" cy="243" r="8" fill="#fbe4e4" stroke="#d22" stroke-width="1.3"/><circle cx="573" cy="243" r="3.5" fill="#e44"/>
<!-- center cert -->
<rect x="242.3" y="84.4" width="143.4" height="199.9" fill="#fff" stroke="#3a86e0" stroke-width="1.8"/>
<linearGradient id="isoS2" x1="0" y1="0" x2="0" y2="1"><stop offset="0" stop-color="#c9d7ea"/><stop offset="0.25" stop-color="#5d8ccc"/><stop offset="1" stop-color="#3a70c0"/></linearGradient>
<linearGradient id="isoS3" x1="0" y1="0" x2="1" y2="0"><stop offset="0" stop-color="#3a70c0"/><stop offset="1" stop-color="#9db8df"/></linearGradient>
<rect x="377.5" y="85.3" width="8" height="198" fill="url(#isoS2)"/>
<rect x="243.2" y="85.3" width="8.3" height="198" fill="url(#isoS2)"/>
<rect x="251.5" y="85.3" width="3" height="198" fill="#e8eef6" opacity="0.7"/>
<text transform="translate(378.6,138.5) rotate(90)" font-family="Liberation Sans" font-weight="bold" font-size="9.5" fill="#fff" textLength="55" lengthAdjust="spacingAndGlyphs">ISO 9001</text>
<text transform="translate(250.4,193) rotate(-90)" font-family="Liberation Sans" font-weight="bold" font-size="9.5" fill="#fff" textLength="55" lengthAdjust="spacingAndGlyphs">ISO 9001</text>
<path d="M301 111 Q313.5 118 326 111 L324 115 Q313.5 121 303 115Z" fill="#3b5da8"/>
<ellipse cx="313.5" cy="106" rx="9" ry="8" fill="#4567b0"/>
<ellipse cx="313.5" cy="106" rx="6" ry="5" fill="#8aa4d4"/>
<rect x="305" y="108" width="17" height="3" fill="#3b5da8"/>
<text x="315" y="127.5" text-anchor="middle" font-family="Liberation Serif" font-style="italic" font-weight="bold" font-size="9" fill="#222" textLength="68" lengthAdjust="spacingAndGlyphs">Certificate of Approval</text>
<g stroke-dasharray="1.6 0.5" fill="none">
<line x1="290" y1="131.2" x2="338" y2="131.2" stroke="#999" stroke-width="0.7"/>
<line x1="302" y1="135" x2="327" y2="135" stroke="#333" stroke-width="1"/>
<line x1="264" y1="140.2" x2="370" y2="140.2" stroke="#333" stroke-width="1.6"/>
<line x1="276" y1="145.6" x2="361" y2="145.6" stroke="#333" stroke-width="1.6"/>
<line x1="290" y1="150" x2="340" y2="150" stroke="#999" stroke-width="0.6"/>
<line x1="262" y1="153" x2="355" y2="153" stroke="#555" stroke-width="0.8"/>
<line x1="278" y1="160" x2="366" y2="160" stroke="#aaa" stroke-width="0.7"/>
<line x1="276" y1="163.5" x2="368" y2="163.5" stroke="#aaa" stroke-width="0.7"/>
<line x1="282" y1="167" x2="348" y2="167" stroke="#aaa" stroke-width="0.7"/>
<line x1="302" y1="170.5" x2="328" y2="170.5" stroke="#666" stroke-width="0.8"/>
<line x1="283" y1="177" x2="342" y2="177" stroke="#bbb" stroke-width="0.7"/>
<line x1="257" y1="181" x2="373" y2="181" stroke="#444" stroke-width="1"/>
<line x1="257" y1="183.5" x2="373" y2="183.5" stroke="#444" stroke-width="1"/>
<line x1="270" y1="186" x2="358" y2="186" stroke="#444" stroke-width="1"/>
<line x1="264" y1="190" x2="366" y2="190" stroke="#999" stroke-width="0.7"/>
<line x1="266" y1="193" x2="362" y2="193" stroke="#999" stroke-width="0.7"/>
<line x1="280" y1="196" x2="348" y2="196" stroke="#555" stroke-width="0.9"/>
<line x1="268" y1="199.5" x2="360" y2="199.5" stroke="#aaa" stroke-width="0.7"/>
<line x1="262" y1="202.5" x2="368" y2="202.5" stroke="#aaa" stroke-width="0.7"/>
<line x1="270" y1="205" x2="356" y2="205" stroke="#aaa" stroke-width="0.7"/>
<line x1="262" y1="216" x2="368" y2="216" stroke="#aaa" stroke-width="0.6"/>
<line x1="264" y1="218.5" x2="366" y2="218.5" stroke="#aaa" stroke-width="0.6"/>
<line x1="280" y1="221" x2="350" y2="221" stroke="#aaa" stroke-width="0.6"/>
</g>
<g fill="none" stroke="#bbb" stroke-width="0.5"><rect x="275" y="206.5" width="25" height="7"/><rect x="326" y="206.5" width="28" height="7"/><line x1="285" y1="206.5" x2="285" y2="213.5"/><line x1="340" y1="206.5" x2="340" y2="213.5"/></g>
<rect x="269" y="240" width="20" height="21" fill="#f5f5f5" stroke="#777" stroke-width="0.7"/>
<path d="M277 244 q4 2 2 6 q-3 3 1 6" stroke="#555" fill="none" stroke-width="1.8"/>
<ellipse cx="313.5" cy="251" rx="12" ry="7" fill="#4aa6e0"/>
<ellipse cx="313.5" cy="251" rx="10.5" ry="5.7" fill="none" stroke="#d8eefa" stroke-width="0.6"/>
<text x="313.5" y="254" text-anchor="middle" font-family="Liberation Sans" font-weight="bold" font-size="7.5" fill="#fff">IAF</text>
<circle cx="350" cy="250" r="13.5" fill="#fbeee6" stroke="#e0855a" stroke-width="1.6"/>
<circle cx="350" cy="250" r="9" fill="none" stroke="#eab098" stroke-width="0.8"/>
<path d="M350 245 l1.3 3.3 3.4 0 -2.7 2.2 1.1 3.3 -3.1 -2 -3.1 2 1.1 -3.3 -2.7 -2.2 3.4 0z" fill="#d2543a"/>
<text x="262" y="276.5" font-family="Liberation Sans" font-size="6.8" fill="#7aa0d0" textLength="102" lengthAdjust="spacingAndGlyphs">Beijing Zhonglianwanrun Certification Center</text>
<line x1="268" y1="280.5" x2="360" y2="280.5" stroke="#777" stroke-width="0.6" stroke-dasharray="1.5 0.5"/>
<!-- ferns -->
<use href="#fern" transform="translate(72,305) scale(1.0,0.6)"/>
<use href="#fern" transform="translate(102,290) scale(1.0,0.86)"/>
<use href="#fern" transform="translate(123,280) scale(0.92,1.0)"/>
<use href="#fern" transform="translate(150,300) rotate(-13) scale(0.8,0.72)"/>
<rect x="46" y="338" width="552" height="4" fill="#fff"/>
</svg></div>
<div class="pan" id="p2" style="left:615px;top:64px;">
<svg width="552" height="275" viewBox="617 66 552 275">
<rect x="617" y="66" width="552" height="271" fill="#eaf8fc"/>
<rect x="617" y="66" width="168" height="271" fill="url(#photo)"/>
<g stroke="#2c3640" stroke-width="6" opacity="0.3">
<line x1="617" y1="100" x2="785" y2="128"/><line x1="617" y1="150" x2="785" y2="178"/><line x1="617" y1="205" x2="785" y2="232"/><line x1="617" y1="262" x2="785" y2="288"/>
</g>
<g stroke="#5b6570" stroke-width="2" opacity="0.25">
<line x1="617" y1="80" x2="785" y2="70"/><line x1="617" y1="125" x2="785" y2="118"/><line x1="617" y1="178" x2="785" y2="170"/>
</g>
<line x1="617" y1="190" x2="705" y2="66" stroke="#74838f" stroke-width="4" opacity="0.7"/>
<line x1="617" y1="320" x2="785" y2="120" stroke="#6e8196" stroke-width="2" opacity="0.25"/>
<line x1="695.5" y1="148" x2="660" y2="66" stroke="#262d35" stroke-width="4"/>
<line x1="695.5" y1="148" x2="740" y2="122" stroke="#262d35" stroke-width="4"/>
<line x1="695.5" y1="148" x2="617" y2="152" stroke="#6b7784" stroke-width="2.5"/>
<line x1="695.5" y1="148" x2="676" y2="226" stroke="#6f8093" stroke-width="2.8"/>
<line x1="696.5" y1="148" x2="697" y2="74" stroke="#8b97a2" stroke-width="0.9"/>
<circle cx="695.5" cy="148" r="3.6" fill="#1e252c"/>
<g fill="#9fb2ca" opacity="0.75">
<polygon points="713,188 724,180 730,186 719,194"/>
<polygon points="697,207 709,198 715,204 703,213"/>
<polygon points="682,226 694,217 700,223 688,232"/>
<polygon points="667,244 679,235 685,241 673,250"/>
<polygon points="651,262 663,253 669,259 657,268"/>
<polygon points="635,280 647,271 653,277 641,286"/>
<polygon points="619,298 631,289 637,295 625,304"/>
</g>
<g stroke="#2c4a78" stroke-width="1.2" opacity="0.5" fill="none">
<line x1="617" y1="236" x2="785" y2="268"/><line x1="617" y1="290" x2="785" y2="318"/>
</g>
<g fill="none" stroke="#eef0f0" stroke-width="1.3">
<ellipse cx="694" cy="272" rx="17.5" ry="14"/>
<path d="M688.5 264.5 A6.5 7.5 0 0 0 688.5 279.5" stroke-width="2.6"/><path d="M693.5 264.5 A6.5 7.5 0 0 0 693.5 279.5" stroke-width="2.6"/><path d="M698.5 264.5 A6.5 7.5 0 0 0 698.5 279.5" stroke-width="2.6"/>
</g>
<text x="625" y="313.6" font-family="Liberation Sans" font-size="10.6" fill="#f4f6f8" textLength="137.5" lengthAdjust="spacingAndGlyphs">系列产品荣获国家认监委颁发强</text>
<text x="654" y="330.8" font-family="Liberation Sans" font-size="10.6" fill="#f4f6f8" textLength="80" lengthAdjust="spacingAndGlyphs">制性 “CCC” 认证</text>
<filter id="sh2" x="-20%" y="-20%" width="140%" height="140%"><feGaussianBlur stdDeviation="2.5"/></filter>
<g filter="url(#sh2)" fill="#6f7f90" opacity="0.5">
<rect x="724" y="101" width="119" height="173"/>
<rect x="867" y="101" width="119" height="173"/>
<rect x="1011" y="101" width="119" height="173"/>
</g>
<use href="#ccccert" transform="translate(723.5,100)"/>
<use href="#ccccert" transform="translate(866.5,100)"/>
<use href="#ccccert" transform="translate(1010.3,100)"/>
<use href="#cccmark" transform="translate(852.3,185)"/>
<use href="#cccmark" transform="translate(996,185)"/>
<use href="#fern" transform="translate(1064,311) scale(1.0,0.52)"/>
<use href="#fern" transform="translate(1095,296) scale(1.0,0.82)"/>
<use href="#fern" transform="translate(1114.6,287) scale(0.92,1.0)"/>
<use href="#fern" transform="translate(1145,306.6) rotate(-8) scale(0.8,0.62)"/>
<rect x="617" y="337" width="552" height="4" fill="#fff"/>
</svg></div>
<div class="pan" id="p3" style="left:44px;top:358px;">
<svg width="552" height="275" viewBox="46 360 552 275">
<defs><linearGradient id="refl3" x1="0" y1="0" x2="0" y2="1"><stop offset="0" stop-color="#b9c9de" stop-opacity="0.22"/><stop offset="1" stop-color="#b9c9de" stop-opacity="0.02"/></linearGradient>
<linearGradient id="blueArc2" x1="0" y1="0" x2="0" y2="1"><stop offset="0" stop-color="#8aa3c4"/><stop offset="0.15" stop-color="#6581ab"/><stop offset="0.31" stop-color="#3f6296"/><stop offset="0.43" stop-color="#234d8a"/><stop offset="1" stop-color="#1a4080"/></linearGradient>
<filter id="sh3" x="-20%" y="-20%" width="140%" height="140%"><feGaussianBlur stdDeviation="2.5"/></filter></defs>
<rect x="46" y="360" width="552" height="271" fill="#ecf8fc"/>
<ellipse cx="322" cy="652" rx="300" ry="160" fill="url(#blueArc2)"/>

<text x="204.6" y="379.1" font-family="Liberation Sans" font-size="11" fill="#1d4a8c" textLength="238" lengthAdjust="spacingAndGlyphs" stroke="#1d4a8c" stroke-width="0.25">荣获国家认监委颁发ISO9001质量管理三体系认证</text>
<g font-family="Liberation Sans" fill="#222">
<text x="131.8" y="409" font-size="10" textLength="77" lengthAdjust="spacingAndGlyphs">环境管理体系认证</text>
<text x="135.2" y="419.5" font-size="10" textLength="69.5" lengthAdjust="spacingAndGlyphs">ISO 14001:2015</text>
<text x="259.4" y="409" font-size="10" textLength="117.3" lengthAdjust="spacingAndGlyphs">职业健康安全管理体系认证</text>
<text x="283.1" y="419.5" font-size="10" textLength="69.6" lengthAdjust="spacingAndGlyphs">ISO 45001:2018</text>
<text x="427.9" y="409" font-size="10" textLength="77" lengthAdjust="spacingAndGlyphs">质量管理体系认证</text>
<text x="434.4" y="419.5" font-size="10" textLength="63.8" lengthAdjust="spacingAndGlyphs">ISO 9001:2015</text>
</g>
<g filter="url(#sh3)" fill="#7d8fa5" opacity="0.5"><rect x="112" y="425" width="118" height="164"/><rect x="259.7" y="425" width="118" height="164"/><rect x="407" y="425" width="118" height="164"/></g>
<use href="#isocert" transform="translate(114,426.8)"/>
<use href="#isocert" transform="translate(261.7,426.8)"/>
<use href="#isocert" transform="translate(409.1,426.8)"/>
<rect x="114" y="588" width="112.7" height="42" fill="url(#refl3)"/>
<rect x="261.7" y="588" width="112.7" height="42" fill="url(#refl3)"/>
<rect x="409.1" y="588" width="112.7" height="42" fill="url(#refl3)"/>
<g opacity="0.15"><rect x="114" y="588" width="19.5" height="40" fill="#1555c8"/><rect x="261.7" y="588" width="19.5" height="40" fill="#1555c8"/><rect x="409.1" y="588" width="19.5" height="40" fill="#1555c8"/>
<circle cx="209" cy="627" r="9" fill="none" stroke="#e23a3a" stroke-width="1.3"/><circle cx="356.7" cy="627" r="9" fill="none" stroke="#e23a3a" stroke-width="1.3"/><circle cx="504.1" cy="627" r="9" fill="none" stroke="#e23a3a" stroke-width="1.3"/></g>
<use href="#fern2" transform="translate(562.7,594.3) scale(1.1,0.75)"/>
<use href="#fern2" transform="translate(585.6,588.5) scale(1.0,0.85)"/>
<rect x="46" y="631" width="552" height="4" fill="#fff"/>
</svg></div>
<div class="pan" id="p4" style="left:615px;top:358px;">
<svg width="552" height="275" viewBox="617 360 552 275">
<defs><linearGradient id="refl4" x1="0" y1="0" x2="0" y2="1"><stop offset="0" stop-color="#fff" stop-opacity="0.6"/><stop offset="1" stop-color="#fff" stop-opacity="0"/></linearGradient>
<linearGradient id="refl4b" x1="0" y1="0" x2="0" y2="1"><stop offset="0" stop-color="#b8c8dc" stop-opacity="0.2"/><stop offset="1" stop-color="#b8c8dc" stop-opacity="0.03"/></linearGradient>
<filter id="sh4" x="-20%" y="-20%" width="140%" height="140%"><feGaussianBlur stdDeviation="2"/></filter></defs>
<rect x="617" y="360" width="552" height="271" fill="url(#p4bg)"/>

<text x="778" y="375.9" font-family="Liberation Sans" font-size="11" fill="#1d3f78" textLength="229.8" lengthAdjust="spacingAndGlyphs" stroke="#1d3f78" stroke-width="0.35">荣获国家知识产权局颁发二十来项国际专利证书</text>
<g filter="url(#sh4)" fill="#7d8fa5" opacity="0.45"><rect x="668.7" y="395" width="72" height="92" /><rect x="763" y="395" width="72" height="92" /><rect x="858.2" y="395" width="72" height="92" /><rect x="952.4" y="395" width="72" height="92" /><rect x="1046.9" y="395" width="72" height="92" /><rect x="616.4" y="497" width="80.4" height="103" /><rect x="711.1" y="497" width="80.4" height="103" /><rect x="805" y="497" width="80.4" height="103" /><rect x="899.7" y="497" width="80.4" height="103" /><rect x="994.6" y="497" width="80.4" height="103" /><rect x="1088.6" y="497" width="80.4" height="103" /></g>
<rect x="670.7" y="485.5" width="68" height="12" fill="url(#refl4)"/><rect x="765" y="485.5" width="68" height="12" fill="url(#refl4)"/><rect x="860.2" y="485.5" width="68" height="12" fill="url(#refl4)"/><rect x="954.4" y="485.5" width="68" height="12" fill="url(#refl4)"/><rect x="1048.9" y="485.5" width="68" height="12" fill="url(#refl4)"/><rect x="618.4" y="598" width="76.4" height="32" fill="url(#refl4b)"/><circle cx="674.4" cy="618" r="8" fill="none" stroke="#c04050" stroke-width="1" opacity="0.25"/><rect x="713.1" y="598" width="76.4" height="32" fill="url(#refl4b)"/><circle cx="769.1" cy="618" r="8" fill="none" stroke="#c04050" stroke-width="1" opacity="0.25"/><rect x="807" y="598" width="76.4" height="32" fill="url(#refl4b)"/><circle cx="863" cy="618" r="8" fill="none" stroke="#c04050" stroke-width="1" opacity="0.25"/><rect x="901.7" y="598" width="76.4" height="32" fill="url(#refl4b)"/><circle cx="957.7" cy="618" r="8" fill="none" stroke="#c04050" stroke-width="1" opacity="0.25"/><rect x="996.6" y="598" width="76.4" height="32" fill="url(#refl4b)"/><circle cx="1052.6" cy="618" r="8" fill="none" stroke="#c04050" stroke-width="1" opacity="0.25"/><rect x="1090.6" y="598" width="76.4" height="32" fill="url(#refl4b)"/><circle cx="1146.6" cy="618" r="8" fill="none" stroke="#c04050" stroke-width="1" opacity="0.25"/>
<use href="#patcert" transform="translate(670.7,397)"/><use href="#patcert" transform="translate(765,397)"/><use href="#patcert" transform="translate(860.2,397)"/><use href="#patcert" transform="translate(954.4,397)"/><use href="#patcert" transform="translate(1048.9,397)"/><use href="#patcert" transform="translate(618.4,498.7) scale(1.1235,1.1224)"/><use href="#patcert" transform="translate(713.1,498.7) scale(1.1235,1.1224)"/><use href="#patcert" transform="translate(807,498.7) scale(1.1235,1.1224)"/><use href="#patcert" transform="translate(901.7,498.7) scale(1.1235,1.1224)"/><use href="#patcert" transform="translate(996.6,498.7) scale(1.1235,1.1224)"/><use href="#patcert" transform="translate(1090.6,498.7) scale(1.1235,1.1224)"/>
<use href="#fern3" transform="translate(647,621) scale(0.75,0.7)"/>
<use href="#fern3" transform="translate(664,614) scale(0.8,0.8)"/>
<use href="#fern3" transform="translate(675,607) scale(0.75,0.8)"/>
<use href="#fern3" transform="translate(690,618) scale(0.7,0.7)"/>
<rect x="617" y="631" width="552" height="4" fill="#fff"/>
</svg></div>
<div class="pan" id="p5" style="left:44px;top:651px;height:280px;">
<svg width="552" height="276" viewBox="46 653 552 276">
<defs><filter id="sh5" x="-20%" y="-20%" width="140%" height="140%"><feGaussianBlur stdDeviation="3"/></filter></defs>
<rect x="46" y="653" width="552" height="272" fill="#ebf8fb"/>

<g filter="url(#sh5)" fill="#8898aa" opacity="0.5">
<rect x="59" y="676" width="355" height="106"/><rect x="59" y="794" width="355" height="106"/>
<rect x="424" y="673" width="161" height="229"/>
</g>
<use href="#rep1" transform="translate(61.2,674.6)"/><rect x="109.8" y="674.6" width="6" height="105.4" fill="url(#cardsh)" transform="translate(225.6 0) scale(-1 1)"/><use href="#rep2" transform="translate(115.8,674.6)"/><rect x="164" y="674.6" width="6" height="105.4" fill="url(#cardsh)" transform="translate(334 0) scale(-1 1)"/><use href="#rep1" transform="translate(170,674.6)"/><rect x="218" y="674.6" width="6" height="105.4" fill="url(#cardsh)" transform="translate(442 0) scale(-1 1)"/><use href="#rep3" transform="translate(224,674.6)"/><rect x="272" y="674.6" width="6" height="105.4" fill="url(#cardsh)" transform="translate(550 0) scale(-1 1)"/><use href="#rep3" transform="translate(278,674.6)"/><rect x="325.9" y="674.6" width="6" height="105.4" fill="url(#cardsh)" transform="translate(657.8 0) scale(-1 1)"/><use href="#rep5" transform="translate(331.9,674.6)"/><use href="#rep5" transform="translate(61.2,792.5)"/><rect x="109.8" y="792.5" width="6" height="105.4" fill="url(#cardsh)" transform="translate(225.6 0) scale(-1 1)"/><use href="#rep5" transform="translate(115.8,792.5)"/><rect x="164" y="792.5" width="6" height="105.4" fill="url(#cardsh)" transform="translate(334 0) scale(-1 1)"/><use href="#rep5" transform="translate(170,792.5)"/><rect x="218" y="792.5" width="6" height="105.4" fill="url(#cardsh)" transform="translate(442 0) scale(-1 1)"/><use href="#rep4" transform="translate(224,792.5)"/><rect x="272" y="792.5" width="6" height="105.4" fill="url(#cardsh)" transform="translate(550 0) scale(-1 1)"/><use href="#rep6" transform="translate(278,792.5)"/><rect x="325.9" y="792.5" width="6" height="105.4" fill="url(#cardsh)" transform="translate(657.8 0) scale(-1 1)"/><use href="#rep4" transform="translate(331.9,792.5)"/>
<rect x="426.3" y="671.6" width="154.7" height="226" fill="#1f4a85"/>
<rect x="436.5" y="682.5" width="135" height="205" fill="none" stroke="#fff" stroke-width="1.5"/>
<g stroke="#fff" fill="none">
<circle cx="503.8" cy="750.8" r="15.6" stroke-width="1.6"/>
<circle cx="503.8" cy="750.8" r="11.3" stroke-width="1.4"/>
<g fill="#1f4a85" stroke-width="1.4">
<rect x="500.2" y="734.4" width="8.4" height="17" rx="4"/>
<rect x="504" y="747.3" width="16.6" height="8.3" rx="4"/>
<rect x="499.4" y="750.5" width="8.4" height="16.4" rx="4"/>
<rect x="487.4" y="746.4" width="16.6" height="8.4" rx="4"/>
</g>
<g stroke-width="1.2" stroke-linecap="round">
<path d="M505.5 741 Q502.5 745 503.8 750.8"/><path d="M513.5 752.5 Q509 749 503.8 750.8"/>
<path d="M502.5 760.5 Q505 756 503.8 750.8"/><path d="M494 749 Q499 752.5 503.8 750.8"/>
</g>
<circle cx="503.8" cy="750.8" r="2.6" fill="#fff" stroke="none"/>
<circle cx="503.8" cy="750.8" r="1" fill="#1f4a85" stroke="none"/>
</g>
<text x="448.3" y="797.6" font-family="Liberation Sans" font-size="11.8" fill="#fff" textLength="111.2" lengthAdjust="spacingAndGlyphs">权威机构出具系列产品</text>
<text x="465.5" y="817.7" font-family="Liberation Sans" font-size="11.8" fill="#fff" textLength="77.5" lengthAdjust="spacingAndGlyphs">各种零部件认证</text>
<use href="#fern" transform="translate(580,900) scale(0.8,0.55)"/>
<use href="#fern" transform="translate(595,895) scale(0.8,0.62)"/>
<rect x="46" y="925" width="552" height="4" fill="#fff"/>
</svg></div>
<div class="pan" id="p6" style="left:615px;top:651px;height:280px;">
<svg width="552" height="276" viewBox="617 653 552 276">
<defs><filter id="sh6" x="-20%" y="-20%" width="140%" height="140%"><feGaussianBlur stdDeviation="2.5"/></filter></defs>
<rect x="617" y="653" width="552" height="272" fill="#eaf8fc"/>
<polygon points="617,713 1158,924.6 617,924.6" fill="#1f4a85"/>

<g filter="url(#sh6)" fill="#6d7f95" opacity="0.55"><rect x="640" y="670" width="118" height="140"/><rect x="793" y="723" width="118" height="140"/>
<rect x="946" y="673" width="224" height="71"/><rect x="946" y="776" width="205" height="144"/></g>
<g id="cqc1">
<rect x="640.2" y="668.9" width="115.1" height="137.7" fill="#fff"/>
<ellipse cx="697.5" cy="687" rx="7.5" ry="4.2" fill="none" stroke="#333" stroke-width="1.1"/><text x="697.5" y="688.8" text-anchor="middle" font-family="Liberation Sans" font-weight="bold" font-size="4.6" fill="#222">CQC</text>
<text x="697.5" y="700" text-anchor="middle" font-family="Liberation Serif" font-weight="bold" font-size="8" fill="#222" letter-spacing="2">产品认证证书</text>
<g fill="#666"><rect x="681" y="702.5" width="33" height="0.9"/><rect x="685" y="706" width="25" height="0.9"/><rect x="676" y="709" width="44" height="0.8"/><rect x="676" y="711.5" width="44" height="0.8"/>
<rect x="685" y="714.5" width="25" height="0.9"/><rect x="676" y="717.5" width="44" height="0.8"/><rect x="676" y="720" width="44" height="0.8"/>
<rect x="685" y="723" width="25" height="0.9"/><rect x="671" y="726" width="54" height="0.8"/><rect x="671" y="728.5" width="54" height="0.8"/>
<rect x="681" y="732" width="33" height="0.9"/><rect x="683" y="735" width="28" height="0.8"/><rect x="683" y="738" width="28" height="0.8"/>
<rect x="683" y="741" width="30" height="0.9"/><rect x="684" y="744" width="22" height="0.8"/><rect x="688" y="747.5" width="16" height="0.8"/>
<rect x="671" y="751" width="54" height="0.8"/><rect x="660" y="754" width="76" height="0.9"/><rect x="677" y="757" width="42" height="0.8"/><rect x="659" y="760" width="78" height="0.9"/><rect x="661" y="763" width="74" height="0.8"/></g>
<path d="M690 778 q4 -6 8 -2 q3 -5 6 -1 q3 -4 5 0" stroke="#222" fill="none" stroke-width="0.9"/>
<rect x="676" y="781" width="25" height="0.5" fill="#555"/>
<circle cx="735" cy="777" r="11.5" fill="#fafafa" stroke="#333" stroke-width="1.2"/><circle cx="735" cy="777" r="8" fill="none" stroke="#999" stroke-width="0.6"/>
<text x="697.5" y="792" text-anchor="middle" font-family="Liberation Serif" font-weight="bold" font-size="6.5" fill="#222" letter-spacing="1.6">中国质量认证中心</text>
<rect x="676" y="795" width="44" height="0.7" fill="#999"/><rect x="683" y="797.5" width="30" height="0.7" fill="#999"/>
<rect x="647" y="801" width="9" height="1.2" fill="#888"/>
</g>
<use href="#cqc1" transform="translate(152.4,53.1)"/>
<rect x="945.7" y="671.2" width="222.3" height="70.3" fill="#1f4a85"/>
<text x="970.8" y="713.6" font-family="Liberation Sans" font-size="11.6" fill="#fff" textLength="189.5" lengthAdjust="spacingAndGlyphs">权威机构出具系列产品各种零部件认证</text>
<rect x="946.2" y="774.8" width="201.7" height="141.8" fill="#fff"/>
<g fill="none" stroke="#777" stroke-width="0.5"><line x1="957.2" y1="799.1" x2="1138.6" y2="799.1"/><line x1="957.2" y1="804" x2="1138.6" y2="804"/><line x1="957.2" y1="809.4" x2="1138.6" y2="809.4"/><line x1="957.2" y1="824.8" x2="1138.6" y2="824.8"/><line x1="957.2" y1="826" x2="1138.6" y2="826"/><line x1="957.2" y1="838.4" x2="1138.6" y2="838.4"/><line x1="957.2" y1="875.6" x2="1138.6" y2="875.6"/><line x1="957.2" y1="879.3" x2="1138.6" y2="879.3"/><line x1="957.2" y1="886.5" x2="1138.6" y2="886.5"/><line x1="957.2" y1="894.7" x2="1138.6" y2="894.7"/><line x1="957.2" y1="907.4" x2="1138.6" y2="907.4"/><line x1="979" y1="799.1" x2="979" y2="907.4"/><line x1="1065" y1="799.1" x2="1065" y2="826"/><line x1="1082.4" y1="799.1" x2="1082.4" y2="826"/><line x1="1120.4" y1="809.4" x2="1120.4" y2="826"/><line x1="957.2" y1="799.1" x2="957.2" y2="907.4"/><line x1="1138.6" y1="799.1" x2="1138.6" y2="907.4"/><line x1="1102.3" y1="894.7" x2="1102.3" y2="907.4"/><line x1="960" y1="826" x2="960" y2="879.3"/><line x1="975.4" y1="826" x2="975.4" y2="879.3"/><line x1="988" y1="826" x2="988" y2="879.3"/><line x1="994.4" y1="826" x2="994.4" y2="879.3"/><line x1="1000.8" y1="826" x2="1000.8" y2="879.3"/><line x1="1008" y1="826" x2="1008" y2="879.3"/><line x1="1011.6" y1="826" x2="1011.6" y2="879.3"/><line x1="1018.9" y1="826" x2="1018.9" y2="879.3"/><line x1="1029.8" y1="826" x2="1029.8" y2="879.3"/><line x1="1041.6" y1="826" x2="1041.6" y2="879.3"/><line x1="1054.3" y1="826" x2="1054.3" y2="879.3"/><line x1="1066" y1="826" x2="1066" y2="879.3"/><line x1="1078.7" y1="826" x2="1078.7" y2="879.3"/><line x1="1090.5" y1="826" x2="1090.5" y2="879.3"/><line x1="1102.3" y1="826" x2="1102.3" y2="879.3"/><line x1="1114.5" y1="826" x2="1114.5" y2="879.3"/><line x1="1126.4" y1="826" x2="1126.4" y2="879.3"/></g>
<circle cx="967.2" cy="786" r="4" fill="none" stroke="#333" stroke-width="1"/>
<text x="958" y="789" font-family="Liberation Serif" font-size="5" fill="#333">宝</text><text x="972" y="789" font-family="Liberation Serif" font-size="5" fill="#333">钢</text>
<rect x="983" y="784.5" width="34" height="2.2" fill="#444"/><rect x="983" y="787.5" width="34" height="0.8" fill="#888"/>
<rect x="958" y="791.5" width="12" height="0.8" fill="#888"/><rect x="958" y="794.5" width="30" height="0.8" fill="#888"/>
<rect x="1027" y="782" width="33" height="2.4" fill="#555"/><rect x="1025" y="787.5" width="48" height="1.6" fill="#777"/>
<rect x="1082.6" y="780.8" width="13.4" height="13" fill="#444"/>
<g fill="#fff"><rect x="1084" y="782.2" width="3" height="3"/><rect x="1091.5" y="782.2" width="3" height="3"/><rect x="1084" y="789.5" width="3" height="3"/><rect x="1089" y="787" width="2" height="2"/></g>
<g fill="#999"><rect x="1099" y="779.5" width="38" height="0.7"/><rect x="1099" y="783" width="36" height="0.7"/><rect x="1099" y="786.5" width="30" height="0.7"/><rect x="1099" y="790" width="26" height="0.7"/><rect x="1099" y="793.5" width="26" height="0.7"/></g>
<g fill="#888"><rect x="960" y="801" width="14" height="0.7"/><rect x="983" y="801" width="20" height="0.7"/><rect x="960" y="806" width="14" height="0.7"/><rect x="983" y="806" width="20" height="0.7"/>
<rect x="962" y="815" width="10" height="0.8"/><rect x="983" y="811" width="26" height="0.9"/><rect x="1045" y="821" width="12" height="0.8"/>
<rect x="1066" y="801" width="14" height="0.8"/><rect x="1085" y="801" width="20" height="0.8"/><rect x="1068" y="806" width="12" height="0.7"/><rect x="1085" y="806" width="12" height="0.9"/><rect x="1110" y="806" width="14" height="0.7"/>
<rect x="1066" y="812" width="14" height="0.7"/><rect x="1066" y="817" width="14" height="0.7"/><rect x="1085" y="817" width="14" height="0.9"/><rect x="1066" y="822" width="14" height="0.7"/><rect x="1124" y="822" width="12" height="0.9"/>
<rect x="961" y="840" width="12" height="1"/><rect x="983" y="840" width="10" height="1"/><rect x="1021" y="840" width="6" height="1"/><rect x="1033" y="840" width="6" height="1"/><rect x="1045" y="840" width="6" height="1"/><rect x="1057" y="840" width="6" height="1"/>
<rect x="962" y="881" width="8" height="0.7"/><rect x="1002" y="881" width="6" height="0.9"/><rect x="962" y="889" width="10" height="0.8"/><rect x="983" y="889" width="150" height="0.7"/><rect x="983" y="891.5" width="40" height="0.7"/>
<rect x="985" y="897.5" width="80" height="0.9"/><rect x="985" y="900.5" width="82" height="0.9"/><rect x="985" y="903.5" width="40" height="0.9"/><rect x="962" y="902" width="10" height="0.8"/>
<rect x="1117" y="910" width="20" height="0.7"/><rect x="1141" y="828" width="1" height="40"/></g>
<path d="M1110 898 q3 -2 5 0 q2 -2 4 0 M1125 897 l0 3 M1108 904 q8 -3 14 -1 q6 -2 12 -2" stroke="#222" fill="none" stroke-width="0.7"/>
<circle cx="1129" cy="813" r="3" fill="none" stroke="#2a9a5a" stroke-width="1"/>
<use href="#fern2" transform="translate(628,886) rotate(-8) scale(0.95,0.62)"/>
<use href="#fern2" transform="translate(657.4,871.2) scale(1.0,0.88)"/>
<use href="#fern2" transform="translate(680.3,862) scale(0.95,1.0)"/>
<use href="#fern2" transform="translate(706,882) rotate(-15) scale(0.85,0.72)"/>
<rect x="617" y="925" width="552" height="4" fill="#fff"/>
</svg></div>

<!-- gray band -->
<div class="abs" style="left:0;top:953px;width:1213px;height:28px;background:#f5f5f5;"></div>

<!-- section 2 header -->
<div class="ttl" style="left:36px;top:1004px;">卡尔森服务流程</div>
<div class="gline" style="left:29px;top:1028px;width:1184px;"></div>
<div class="grn" style="left:29px;top:1028px;width:112px;"></div>

<!-- process -->
<svg class="abs" style="left:0;top:1065px;" width="1213" height="45" viewBox="0 1065 1213 45">
<g fill="#000" stroke="none">
<!-- icon1 headset -->
<path d="M69.6 1088.5 V1086.5 A9.4 10.2 0 0 1 88.4 1086.5 V1088.5" fill="none" stroke="#000" stroke-width="1.35"/>
<rect x="68" y="1085" width="2.4" height="5.4" rx="0.8"/>
<rect x="88" y="1085" width="2.6" height="5.4" rx="0.8"/>
<ellipse cx="78.9" cy="1086.9" rx="6.1" ry="7"/>
<path d="M75.5 1092 L82 1092 L82.5 1094.6 Q87.5 1095.2 88.8 1099.4 L69.2 1099.4 Q70.5 1095.2 75.2 1094.6Z"/>
<path d="M78.6 1090.3 Q82 1091 87.7 1088.3" fill="none" stroke="#fff" stroke-width="2.6" stroke-linecap="round"/>
<path d="M78.6 1090.3 Q82 1091 87.7 1088.3" fill="none" stroke="#000" stroke-width="1.2" stroke-linecap="round"/>
<!-- icon2 pencil ruler -->
<polygon points="208.8,1080.3 214.5,1075.3 219.8,1080.3 214.2,1085.6"/>
<polygon points="222.3,1093.5 228.4,1088 233.8,1093.4 228.4,1098.7"/>
<g stroke="#fff" stroke-width="0.9"><line x1="210.5" y1="1082" x2="212.2" y2="1080.3"/><line x1="212.5" y1="1084" x2="214.3" y2="1082.3"/>
<line x1="224" y1="1095.2" x2="225.8" y2="1093.5"/><line x1="226" y1="1097.1" x2="227.8" y2="1095.4"/></g>
<polygon points="213.3,1089.7 224.5,1079.2 229.8,1084.3 218.5,1094.8" stroke="#fff" stroke-width="1"/>
<polygon points="226,1077.7 228.7,1075.3 233.8,1080 231,1082.9"/>
<polygon points="209.7,1097.8 212.1,1091.3 216.8,1096"/>
<!-- icon3 doc palette -->
<path d="M366.2 1075.8 H353.2 Q352.3 1075.8 352.3 1076.8 V1097.5 Q352.3 1098.3 353.2 1098.3 H366" fill="none" stroke="#000" stroke-width="1.3"/>
<path d="M366.2 1075.8 L372 1081 V1086.3" fill="none" stroke="#000" stroke-width="1.3"/>
<path d="M366.2 1075.8 V1079.8 Q366.2 1081 367.4 1081 H372" fill="none" stroke="#000" stroke-width="1.2"/>
<line x1="353" y1="1081.3" x2="364.3" y2="1081.3" stroke="#000" stroke-width="0.9"/>
<ellipse cx="357" cy="1080.8" rx="2.8" ry="1"/><ellipse cx="357" cy="1082.6" rx="2.6" ry="0.9"/>
<line x1="357" y1="1077" x2="357" y2="1091.3" stroke="#555" stroke-width="1.1"/>
<path d="M364.5 1097.5 Q359 1095.5 359 1090.5 Q359.2 1084.5 365.5 1084.3 Q369 1084.3 371.5 1086.5 Q368.5 1088 368.3 1091 Q366.5 1092 365.5 1094" fill="none" stroke="#000" stroke-width="1.2"/>
<circle cx="366.5" cy="1096" r="2.3" fill="none" stroke="#000" stroke-width="1.2"/>
<path d="M368.5 1094 L374 1088.5 Q375.5 1088.5 375.5 1090 L370 1095.5" fill="none" stroke="#000" stroke-width="1.2"/>
<!-- icon4 clipboard check -->
<rect x="497.4" y="1076.6" width="16.6" height="22.2" rx="1.3" fill="none" stroke="#000" stroke-width="1.3"/>
<rect x="501.3" y="1075.2" width="8.7" height="3.4" rx="1.7" fill="#fff" stroke="#000" stroke-width="1.2"/>
<g stroke="#000" stroke-width="1.3" stroke-linecap="round"><line x1="500.2" y1="1083.2" x2="510.6" y2="1083.2"/><line x1="500.2" y1="1086" x2="510.6" y2="1086"/><line x1="500.2" y1="1088.8" x2="505.4" y2="1088.8"/><line x1="500.2" y1="1091.6" x2="503.4" y2="1091.6"/></g>
<circle cx="510.7" cy="1093.7" r="5" fill="#fff" stroke="#000" stroke-width="1.3"/>
<polyline points="508.6,1093.8 510.2,1095.3 512.8,1092.3" fill="none" stroke="#000" stroke-width="1.2"/>
<!-- icon5 clipboard plus -->
<rect x="640.3" y="1076.6" width="16.2" height="22.2" rx="1.3" fill="none" stroke="#000" stroke-width="1.3"/>
<rect x="643.8" y="1075.2" width="8.4" height="3.4" rx="1.7" fill="#fff" stroke="#000" stroke-width="1.2"/>
<g stroke="#000" stroke-width="1.3" stroke-linecap="round"><line x1="642.8" y1="1083.2" x2="653.4" y2="1083.2"/><line x1="642.8" y1="1086" x2="653.4" y2="1086"/><line x1="642.8" y1="1088.8" x2="648" y2="1088.8"/><line x1="642.8" y1="1091.6" x2="646" y2="1091.6"/></g>
<circle cx="653.4" cy="1094.1" r="5" fill="#fff" stroke="#000" stroke-width="1.3"/>
<g stroke="#000" stroke-width="1.2"><line x1="651" y1="1094.1" x2="655.8" y2="1094.1"/><line x1="653.4" y1="1091.7" x2="653.4" y2="1096.5"/></g>
<!-- icon6 shovel -->
<rect x="779.1" y="1097.9" width="17.8" height="1.9" rx="0.9"/>
<rect x="799.5" y="1097.9" width="3.6" height="1.9" rx="0.9"/>
<path d="M786.2 1085.4 L789.2 1087.8 L793 1092.5 Q789 1097 784.8 1096.7 Q782 1096 781.8 1092.5 Q782.3 1088.5 786.2 1085.4Z"/>
<line x1="788.5" y1="1089" x2="796.5" y2="1080.5" stroke="#000" stroke-width="2.6"/>
<polygon points="796.9,1075.3 803.4,1082.1 800.3,1083.5 794.6,1080.5 795.2,1078.2"/>
<!-- icon7 card check -->
<rect x="922" y="1078.3" width="23.3" height="17" rx="1.5" fill="none" stroke="#000" stroke-width="1.3"/>
<line x1="922" y1="1083.3" x2="945.3" y2="1083.3" stroke="#000" stroke-width="1.2"/>
<line x1="937.3" y1="1080.7" x2="942.5" y2="1080.7" stroke="#000" stroke-width="1.5" stroke-linecap="round"/>
<g stroke="#000" stroke-width="1.3" stroke-linecap="round"><line x1="924.9" y1="1086.1" x2="933.5" y2="1086.1"/><line x1="924.9" y1="1088.6" x2="933.5" y2="1088.6"/></g>
<rect x="924.6" y="1091.4" width="9" height="2.4" rx="1.2" fill="none" stroke="#000" stroke-width="1.1"/>
<circle cx="941" cy="1090.4" r="4.8" fill="#fff" stroke="#000" stroke-width="1.3"/>
<polyline points="939,1090.5 940.5,1092 943,1089" fill="none" stroke="#000" stroke-width="1.2"/>
<!-- icon8 shield -->
<path d="M1076 1075.5 L1066.3 1079.7 V1085.5 Q1066.5 1093.5 1076 1098.6 Q1085.5 1093.5 1085.7 1085.5 V1079.7Z" fill="none" stroke="#000" stroke-width="1.25" stroke-linejoin="round"/>
<circle cx="1076" cy="1086.4" r="4.5" fill="none" stroke="#000" stroke-width="1.2"/>
<polygon points="1078,1089.5 1080,1088.8 1081,1091.8"/>
</g>
<g fill="none" stroke="#111" stroke-width="1.7" stroke-linecap="round" stroke-linejoin="round">
<polyline points="177.5,1082.6 182.7,1087.5 177.5,1092.4"/>
<polyline points="320,1082.6 325.2,1087.5 320,1092.4"/>
<polyline points="462.4,1082.6 467.6,1087.5 462.4,1092.4"/>
<polyline points="604.8,1082.6 610,1087.5 604.8,1092.4"/>
<polyline points="747.2,1082.6 752.4,1087.5 747.2,1092.4"/>
<polyline points="889.6,1082.6 894.8,1087.5 889.6,1092.4"/>
<polyline points="1032,1082.6 1037.2,1087.5 1032,1092.4"/>
</g>
</svg>

<div class="stxt" style="left:96px;">前期沟通</div>
<div class="stxt" style="left:239px;">现场勘查</div>
<div class="stxt" style="left:381px;">方案设计</div>
<div class="stxt" style="left:523px;">方案确认</div>
<div class="stxt" style="left:666px;">签订合同</div>
<div class="stxt" style="left:808px;">进场施工</div>
<div class="stxt" style="left:951px;">竣工验收</div>
<div class="stxt" style="left:1093px;">售后服务</div>

</body></html>
